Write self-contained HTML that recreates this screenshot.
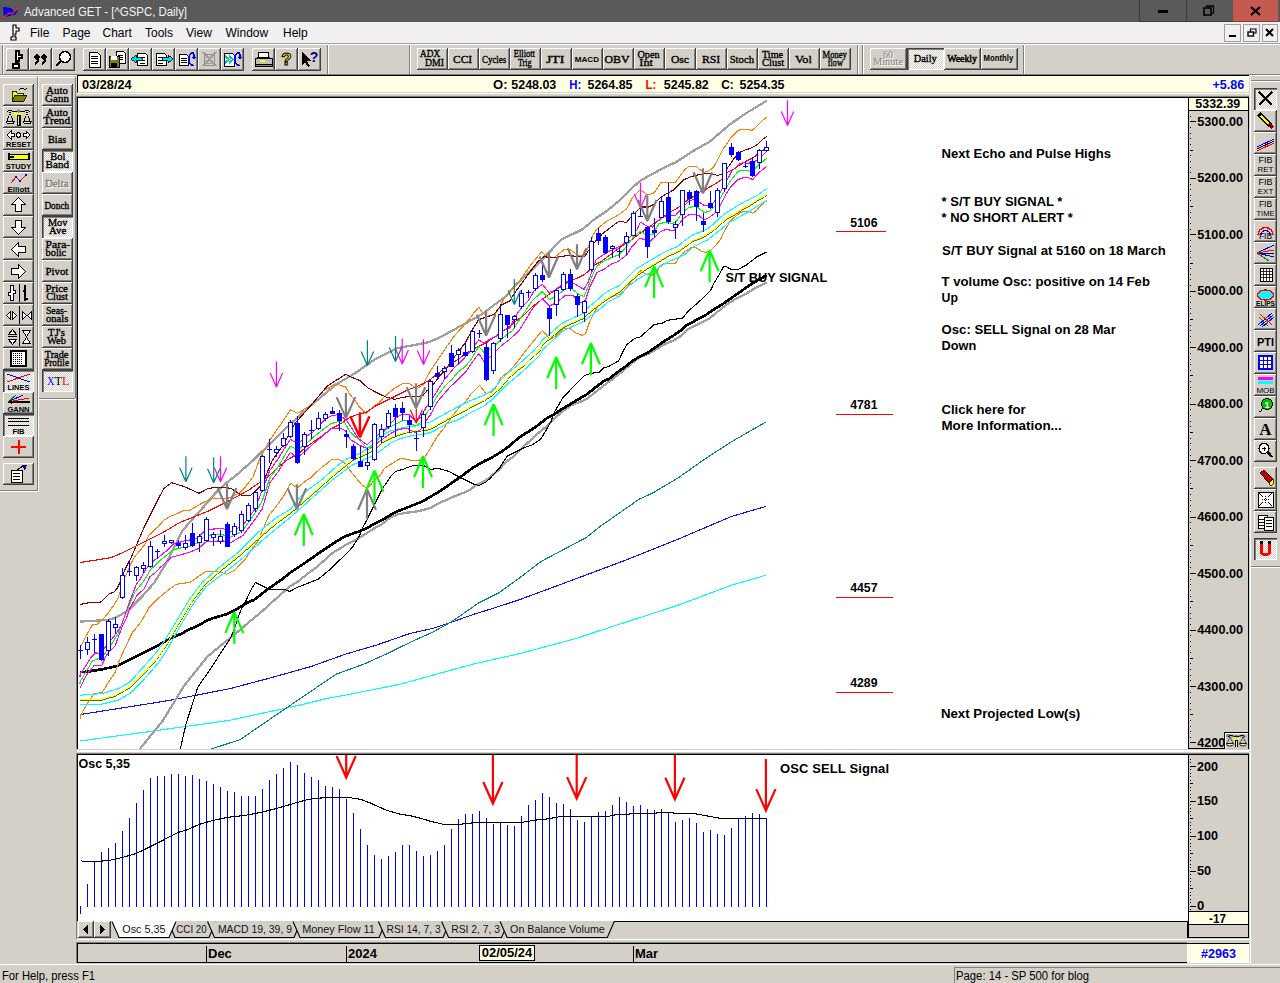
<!DOCTYPE html><html><head><meta charset="utf-8"><title>Advanced GET</title><style>
*{margin:0;padding:0;box-sizing:border-box}
html,body{width:1280px;height:983px;overflow:hidden;background:#d4d0c8;font-family:"Liberation Sans",sans-serif;position:relative}
.a{position:absolute}
.b{position:absolute;background:#d4d0c8;box-shadow:inset -1px -1px #404040,inset 1px 1px #fff,inset -2px -2px #808080}
.p{position:absolute;background-color:#fff;background-image:repeating-conic-gradient(#d4d0c8 0 25%,#fff 0 50%);background-size:2px 2px;box-shadow:inset 1px 1px #404040,inset 2px 2px #808080,inset -1px -1px #fff}
.t{font-family:"Liberation Serif",serif;font-weight:bold;color:#000;text-align:center;line-height:10px;font-size:11px;display:flex;align-items:center;justify-content:center;flex-direction:column;letter-spacing:-0.2px}
.s{font-family:"Liberation Sans",sans-serif;font-weight:bold}
.ax{font-family:"Liberation Sans",sans-serif;font-weight:bold;font-size:12.6px;color:#000;position:absolute;line-height:13px}
svg{position:absolute;overflow:hidden}
.b svg,.p svg{position:static;display:block;shape-rendering:crispEdges}
</style></head><body><div class="a" style="left:0;top:0;width:1280px;height:22px;background:#5a5a5a"></div><svg style="left:2px;top:5px" width="18" height="14" viewBox="0 0 18 14"><path d="M1 2 L9 3 L12 6 L16 5 L14 9 L8 11 L2 12 Z" fill="#0000e0"/><path d="M1 13 L7 8 L10 9 L17 2" stroke="#ff2020" stroke-width="1.3" fill="none"/></svg><div class="a" style="left:1139px;top:0;width:47px;height:22px;background:#5a5a5a;border-left:1px solid #3c3c3c;border-bottom:1px solid #3c3c3c"></div><div class="a" style="left:1158px;top:10px;width:10px;height:3px;background:#000"></div><div class="a" style="left:1186px;top:0;width:47px;height:22px;background:#5a5a5a;border-left:1px solid #3c3c3c;border-bottom:1px solid #3c3c3c"></div><svg style="left:1203px;top:5px" width="12" height="11" viewBox="0 0 12 11"><rect x="1" y="3" width="7" height="7" fill="none" stroke="#000" stroke-width="1.6"/><path d="M3.5 3 V1 H10.5 V8 H8" fill="none" stroke="#000" stroke-width="1.3"/></svg><div class="a" style="left:1233px;top:0;width:45px;height:22px;background:#c55a50;border-bottom:1px solid #8a3c36"></div><svg style="left:1250px;top:6px" width="11" height="10" viewBox="0 0 11 10"><path d="M1 1 L10 9 M10 1 L1 9" stroke="#000" stroke-width="2.2"/></svg><div class="a" style="left:0;top:22px;width:1280px;height:21px;background:#f0f0f0"></div><svg style="left:9px;top:24px" width="12" height="17" viewBox="0 0 12 17"><path d="M4 1 H7 V4 H10 V7 H7 V10 H6 V13 H7 V16 H2 V13 H4 Z" fill="#fff" stroke="#000" stroke-width="1.2"/></svg><div class="a" style="left:30.0px;top:25px;font-size:12px;color:#000;line-height:16px">File</div><div class="a" style="left:62.5px;top:25px;font-size:12px;color:#000;line-height:16px">Page</div><div class="a" style="left:102.5px;top:25px;font-size:12px;color:#000;line-height:16px">Chart</div><div class="a" style="left:145.0px;top:25px;font-size:12px;color:#000;line-height:16px">Tools</div><div class="a" style="left:186.0px;top:25px;font-size:12px;color:#000;line-height:16px">View</div><div class="a" style="left:225.5px;top:25px;font-size:12px;color:#000;line-height:16px">Window</div><div class="a" style="left:283.0px;top:25px;font-size:12px;color:#000;line-height:16px">Help</div><div class="a" style="left:1224px;top:24px;width:17px;height:18px;background:#f0f0f0;border:1px solid #a0a0a0"></div><div class="a" style="left:1243px;top:24px;width:17px;height:18px;background:#f0f0f0;border:1px solid #a0a0a0"></div><div class="a" style="left:1262px;top:24px;width:16px;height:18px;background:#f0f0f0;border:1px solid #a0a0a0"></div><div class="a" style="left:1229px;top:35px;width:7px;height:2px;background:#000"></div><svg style="left:1247px;top:28px" width="10" height="9" viewBox="0 0 10 9"><rect x="1" y="4" width="5.5" height="4" fill="none" stroke="#000" stroke-width="1.4"/><path d="M3.5 4 V1 H9 V5 H6.5" fill="none" stroke="#000" stroke-width="1.2"/></svg><svg style="left:1265px;top:28px" width="9" height="9" viewBox="0 0 9 9"><path d="M1 1 L8 8 M8 1 L1 8" stroke="#000" stroke-width="2"/></svg><div class="a" style="left:0;top:43px;width:1280px;height:1px;background:#a0a0a0"></div><div class="a" style="left:0;top:44px;width:1280px;height:1px;background:#fff"></div><div class="a" style="left:0;top:74px;width:1280px;height:1px;background:#808080"></div><div class="a" style="left:0;top:75px;width:1280px;height:1px;background:#fff"></div><div class="a" style="left:2px;top:45px;width:1px;height:29px;background:#808080"></div><div class="a" style="left:3px;top:45px;width:1px;height:29px;background:#fff"></div><div class="a" style="left:327px;top:45px;width:1px;height:29px;background:#808080"></div><div class="a" style="left:328px;top:45px;width:1px;height:29px;background:#fff"></div><div class="a" style="left:409px;top:45px;width:1px;height:29px;background:#808080"></div><div class="a" style="left:410px;top:45px;width:1px;height:29px;background:#fff"></div><div class="a" style="left:857px;top:45px;width:1px;height:29px;background:#808080"></div><div class="a" style="left:858px;top:45px;width:1px;height:29px;background:#fff"></div><div class="a" style="left:862px;top:45px;width:1px;height:29px;background:#808080"></div><div class="a" style="left:863px;top:45px;width:1px;height:29px;background:#fff"></div><div class="a" style="left:1023px;top:45px;width:1px;height:29px;background:#808080"></div><div class="a" style="left:1024px;top:45px;width:1px;height:29px;background:#fff"></div><div class="b" style="left:6px;top:48px;width:23px;height:23px;"><svg width="23" height="23" viewBox="0 0 23 23"><path d="M10 3 H13 V7 H16 V10 H13 V13 H12 V16 H13 V20 H7 V16 H10 Z" fill="#fff" stroke="#000" stroke-width="1.3"/></svg></div><div class="b" style="left:29px;top:48px;width:23px;height:23px;"><svg width="23" height="23" viewBox="0 0 23 23"><circle cx="8" cy="9" r="2.6"/><circle cx="15" cy="9" r="2.6"/><path d="M9.5 9 Q10 14 6 16 M16.5 9 Q17 14 13 16" stroke="#000" stroke-width="2" fill="none"/></svg></div><div class="b" style="left:52px;top:48px;width:23px;height:23px;"><svg width="23" height="23" viewBox="0 0 23 23"><circle cx="13" cy="9" r="5.5" fill="#fff" stroke="#000" stroke-width="1.5"/><path d="M9 13 L4 18" stroke="#000" stroke-width="2.2"/></svg></div><div class="b" style="left:83px;top:48px;width:23px;height:23px;"><svg width="23" height="23" viewBox="0 0 23 23"><path d="M6 4 H14 L17 7 V19 H6 Z" fill="#fff" stroke="#000"/><path d="M8 8 H15 M8 10.5 H15 M8 13 H15 M8 15.5 H15" stroke="#000"/></svg></div><div class="b" style="left:106px;top:48px;width:23px;height:23px;"><svg width="23" height="23" viewBox="0 0 23 23"><path d="M10 3 H17 L19 5 V15 H10 Z" fill="#fff" stroke="#000"/><path d="M12 7 H17 M12 9 H17 M12 11 H17" stroke="#000"/><rect x="3" y="8" width="10" height="11" fill="#808000" stroke="#000"/><rect x="5" y="8" width="6" height="4" fill="#fff"/><rect x="5" y="15" width="6" height="4" fill="#000"/></svg></div><div class="b" style="left:129px;top:48px;width:23px;height:23px;"><svg width="23" height="23" viewBox="0 0 23 23"><path d="M8 5 H16 L18 7 V17 H8 Z" fill="#fff" stroke="#000"/><path d="M11 9 H16 M11 12 H16 M11 15 H16" stroke="#000"/><path d="M2 11 L7 7 V9.5 H13 V12.5 H7 V15 Z" fill="#00e0e0" stroke="#000" stroke-width="0.8"/></svg></div><div class="b" style="left:152px;top:48px;width:23px;height:23px;"><svg width="23" height="23" viewBox="0 0 23 23"><path d="M4 5 H12 L14 7 V17 H4 Z" fill="#fff" stroke="#000"/><path d="M6 9 H11 M6 12 H11 M6 15 H11" stroke="#000"/><path d="M21 11 L16 7 V9.5 H10 V12.5 H16 V15 Z" fill="#00e0e0" stroke="#000" stroke-width="0.8"/></svg></div><div class="b" style="left:175px;top:48px;width:23px;height:23px;"><svg width="23" height="23" viewBox="0 0 23 23"><path d="M4.5 6.5 H11.5 L13.5 8.5 V17.5 H4.5 Z" fill="#fff" stroke="#000"/><path d="M6 10.5 H12 M6 12.5 H12 M6 14.5 H12" stroke="#000"/><path d="M18.5 4.5 Q14 4.5 14 11 Q14 17.5 18.5 17.5" stroke="#0000ff" stroke-width="1.6" fill="none"/><path d="M17 9 H21 L19 12 Z" fill="#0000ff"/><path d="M18.5 4.5 Q19 6 19 9" stroke="#0000ff" stroke-width="1.4" fill="none"/></svg></div><div class="b" style="left:198px;top:48px;width:23px;height:23px;"><svg width="23" height="23" viewBox="0 0 23 23"><path d="M5 4 L18 18 M18 4 L5 18" stroke="#a0a0a0" stroke-width="2"/><rect x="6" y="6" width="10" height="11" fill="none" stroke="#909090"/><path d="M7 9 H15 M7 12 H15 M7 15 H15" stroke="#a0a0a0"/></svg></div><div class="b" style="left:221px;top:48px;width:23px;height:23px;"><svg width="23" height="23" viewBox="0 0 23 23"><path d="M3.5 5.5 H11.5 L13.5 7.5 V18.5 H3.5 Z" fill="#fff" stroke="#000"/><path d="M4 8 L8 11.5 L4 15 M8 8 L12 11.5 L8 15" stroke="#00c0c0" stroke-width="1.8" fill="none"/><path d="M18.5 4.5 Q14 4.5 14 11 Q14 17.5 18.5 17.5" stroke="#0000ff" stroke-width="1.6" fill="none"/><path d="M17 9 H21 L19 12 Z" fill="#0000ff"/><path d="M18.5 4.5 Q19 6 19 9" stroke="#0000ff" stroke-width="1.4" fill="none"/></svg></div><div class="b" style="left:252px;top:48px;width:23px;height:23px;"><svg width="23" height="23" viewBox="0 0 23 23"><path d="M7 4 H16 L17 9 H6 Z" fill="#fff" stroke="#000"/><path d="M3 10 H20 V16 H3 Z" fill="#c0c0c0" stroke="#000"/><path d="M3 16 H20 V18 H3 Z" fill="#808080" stroke="#000"/><path d="M8 13 H13" stroke="#ffff00" stroke-width="1.5"/></svg></div><div class="b" style="left:275px;top:48px;width:23px;height:23px;"><svg width="23" height="23" viewBox="0 0 23 23"><text x="11.5" y="17" text-anchor="middle" font-family="Liberation Sans" font-weight="bold" font-size="17" fill="#ffff00" stroke="#000" stroke-width="1">?</text></svg></div><div class="b" style="left:298px;top:48px;width:23px;height:23px;"><svg width="23" height="23" viewBox="0 0 23 23"><path d="M4 4 V17 L7 14 L10 19 L12 18 L9 13 H13 Z" fill="#000"/><text x="16" y="14" text-anchor="middle" font-family="Liberation Sans" font-weight="bold" font-size="14" fill="#000080">?</text></svg></div><div class="b" style="left:417px;top:48px;width:31px;height:22px;"></div><div class="b" style="left:448px;top:48px;width:31px;height:22px;"></div><div class="b" style="left:479px;top:48px;width:31px;height:22px;"></div><div class="b" style="left:510px;top:48px;width:31px;height:22px;"></div><div class="b" style="left:541px;top:48px;width:31px;height:22px;"></div><div class="b" style="left:572px;top:48px;width:31px;height:22px;"></div><div class="b" style="left:603px;top:48px;width:31px;height:22px;"></div><div class="b" style="left:634px;top:48px;width:31px;height:22px;"></div><div class="b" style="left:665px;top:48px;width:31px;height:22px;"></div><div class="b" style="left:696px;top:48px;width:31px;height:22px;"></div><div class="b" style="left:727px;top:48px;width:31px;height:22px;"></div><div class="b" style="left:758px;top:48px;width:31px;height:22px;"></div><div class="b" style="left:789px;top:48px;width:31px;height:22px;"></div><div class="b" style="left:820px;top:48px;width:31px;height:22px;"></div><div class="b" style="left:870px;top:48px;width:37px;height:22px;"></div><div class="p" style="left:907px;top:48px;width:37px;height:22px;"></div><div class="b" style="left:944px;top:48px;width:37px;height:22px;"></div><div class="b" style="left:981px;top:48px;width:37px;height:22px;"></div><div class="a" style="left:0;top:77px;width:77px;height:1px;background:#fff"></div><div class="a" style="left:37px;top:77px;width:1px;height:414px;background:#808080"></div><div class="a" style="left:38px;top:77px;width:1px;height:415px;background:#fff"></div><div class="a" style="left:0;top:490px;width:37px;height:1px;background:#808080"></div><div class="a" style="left:0;top:491px;width:38px;height:1px;background:#fff"></div><div class="a" style="left:75px;top:77px;width:1px;height:321px;background:#808080"></div><div class="a" style="left:39px;top:398px;width:36px;height:1px;background:#808080"></div><div class="a" style="left:39px;top:399px;width:37px;height:1px;background:#fff"></div><div class="b" style="left:3px;top:84px;width:31px;height:22px;"><svg width="31" height="22" viewBox="0 0 31 22"><path d="M9 7 H13 L14 9 H20 V17 H9 Z" fill="#ffff00" stroke="#000" stroke-width="0.8"/><path d="M9 17 L12 11 H24 L21 17 Z" fill="#808000" stroke="#000" stroke-width="0.8"/><path d="M16 6 Q19 2 22 6" stroke="#000" stroke-width="1" fill="none"/><path d="M21 5 L23 7 L24 4 Z" fill="#000"/></svg></div><div class="b" style="left:3px;top:106px;width:31px;height:22px;"><svg width="31" height="22" viewBox="0 0 31 22"><path d="M4 6 Q6 3 9 5 Q12 7 15.5 5 Q19 7 22 5 Q25 3 27 6" fill="none" stroke="#000" stroke-width="1.3"/><path d="M11 6 L15.5 11 L20 6" fill="none" stroke="#ffff00" stroke-width="2"/><rect x="13.5" y="9" width="4" height="11" fill="#000"/><rect x="14.7" y="10" width="1.6" height="9" fill="#ffff00"/><circle cx="15.5" cy="5" r="1.6" fill="#808080"/><path d="M7 6 L4 15 M7 6 L10 15 M24 6 L21 15 M24 6 L27 15" stroke="#000" stroke-width="1" stroke-dasharray="1.5 0.7"/><path d="M3.5 15.5 H11 Q11 18 7.2 18 Q3.5 18 3.5 15.5 Z M20.5 15.5 H28 Q28 18 24.2 18 Q20.5 18 20.5 15.5 Z" fill="#fff" stroke="#000" stroke-width="1"/><path d="M7 16.5 H10 M24 16.5 H27" stroke="#ffff00" stroke-width="1.5"/></svg></div><div class="b" style="left:3px;top:128px;width:31px;height:22px;"><svg width="31" height="22" viewBox="0 0 31 22"><path d="M4 7 L8 3 V5.5 H11 V8.5 H8 V11 Z M27 7 L23 3 V5.5 H20 V8.5 H23 V11 Z" fill="#fff" stroke="#000"/><circle cx="15.5" cy="7" r="2.2" fill="#fff" stroke="#000"/><text x="15.5" y="19" text-anchor="middle" font-family="Liberation Sans" font-weight="bold" font-size="7.5">RESET</text></svg></div><div class="b" style="left:3px;top:150px;width:31px;height:22px;"><svg width="31" height="22" viewBox="0 0 31 22"><rect x="6" y="4" width="20" height="5" fill="#ffff00" stroke="#000"/><path d="M6 3 V10 M26 3 V10" stroke="#000" stroke-width="2"/><path d="M6 6.5 H11" stroke="#000" stroke-width="2"/><text x="15.5" y="19" text-anchor="middle" font-family="Liberation Sans" font-weight="bold" font-size="7.5">STUDY</text></svg></div><div class="b" style="left:3px;top:172px;width:31px;height:22px;"><svg width="31" height="22" viewBox="0 0 31 22"><path d="M8 11 L13 5 L17 9 L23 3" stroke="#ff0000" stroke-width="1" fill="none"/><circle cx="13" cy="5" r="1.3" fill="#0000ff"/><circle cx="17" cy="9" r="1.3" fill="#0000ff"/><circle cx="23" cy="3" r="1.3" fill="#0000ff"/><text x="15.5" y="19.5" text-anchor="middle" font-family="Liberation Sans" font-weight="bold" font-size="8">Elliott</text></svg></div><div class="b" style="left:3px;top:194px;width:31px;height:22px;"><svg width="31" height="22" viewBox="0 0 31 22"><path d="M15.5 3.5 L22.5 10.5 H18.5 V17.5 H12.5 V10.5 H8.5 Z" fill="#fff" stroke="#000" stroke-width="1"/></svg></div><div class="b" style="left:3px;top:216px;width:31px;height:22px;"><svg width="31" height="22" viewBox="0 0 31 22"><path d="M15.5 18.5 L22.5 11.5 H18.5 V4.5 H12.5 V11.5 H8.5 Z" fill="#fff" stroke="#000" stroke-width="1"/></svg></div><div class="b" style="left:3px;top:238px;width:31px;height:22px;"><svg width="31" height="22" viewBox="0 0 31 22"><path d="M8.5 11.5 L15.5 4.5 V8.5 H22.5 V14.5 H15.5 V18.5 Z" fill="#fff" stroke="#000" stroke-width="1"/></svg></div><div class="b" style="left:3px;top:260px;width:31px;height:22px;"><svg width="31" height="22" viewBox="0 0 31 22"><path d="M22.5 11.5 L15.5 4.5 V8.5 H8.5 V14.5 H15.5 V18.5 Z" fill="#fff" stroke="#000" stroke-width="1"/></svg></div><div class="b" style="left:3px;top:282px;width:31px;height:22px;"><svg width="31" height="22" viewBox="0 0 31 22"><path d="M7.5 3.5 H10.5 V8.5 H12.5 V11.5 H10.5 V18.5 H7.5 V13.5 H5.5 V10.5 H7.5 Z" fill="#fff" stroke="#000" stroke-width="1"/><path d="M16.5 2 V20" stroke="#000" stroke-width="1"/><path d="M21.5 3 V19 M21.5 8.5 H19.5 M21.5 16.5 H24.5" stroke="#000" stroke-width="2"/></svg></div><div class="b" style="left:3px;top:304px;width:31px;height:22px;"><svg width="31" height="22" viewBox="0 0 31 22"><path d="M3.5 11.5 L7.5 7.5 V15.5 Z M13.5 11.5 L9.5 7.5 V15.5 Z M23.5 11.5 L19.5 7.5 V15.5 Z M24.5 11.5 L28.5 7.5 V15.5 Z" fill="#fff" stroke="#000" stroke-width="1"/><path d="M16.5 2 V20" stroke="#000" stroke-width="1"/></svg></div><div class="b" style="left:3px;top:326px;width:31px;height:22px;"><svg width="31" height="22" viewBox="0 0 31 22"><path d="M9.5 3.5 L13.5 8.5 H5.5 Z M9.5 18.5 L13.5 13.5 H5.5 Z M23.5 10.5 L19.5 4.5 H27.5 Z M23.5 11.5 L19.5 17.5 H27.5 Z" fill="#fff" stroke="#000" stroke-width="1"/><path d="M5 10.5 H14" stroke="#000"/><path d="M16.5 2 V20" stroke="#000" stroke-width="1"/></svg></div><div class="b" style="left:3px;top:348px;width:31px;height:22px;"><svg width="31" height="22" viewBox="0 0 31 22"><rect x="8" y="3" width="15" height="15" fill="#fff" stroke="#000" stroke-width="1.5"/><path d="M10 5 h1 m1 0 h1 m1 0 h1 m1 0 h1 m1 0 h1 M10 7 h1 m1 0 h1 m1 0 h1 m1 0 h1 m1 0 h1 M10 9 h1 m1 0 h1 m1 0 h1 m1 0 h1 m1 0 h1 M10 11 h1 m1 0 h1 m1 0 h1 m1 0 h1 m1 0 h1 M10 13 h1 m1 0 h1 m1 0 h1 m1 0 h1 m1 0 h1 M10 15 h1 m1 0 h1 m1 0 h1 m1 0 h1 m1 0 h1" stroke="#000" stroke-width="1"/></svg></div><div class="p" style="left:3px;top:370px;width:31px;height:22px;"><svg width="31" height="22" viewBox="0 0 31 22"><path d="M4 4 L27 12 M4 12 L27 4" stroke="#0000ff" stroke-width="1"/><path d="M4 12 L27 4" stroke="#ff0000" stroke-width="1"/><text x="15.5" y="20" text-anchor="middle" font-family="Liberation Sans" font-weight="bold" font-size="7.5">LINES</text></svg></div><div class="b" style="left:3px;top:392px;width:31px;height:22px;"><svg width="31" height="22" viewBox="0 0 31 22"><path d="M5 10 L27 10" stroke="#000" stroke-width="1.5"/><path d="M5 10 L26 6" stroke="#ff0000"/><path d="M5 10 L20 3" stroke="#0000ff"/><path d="M5 10 L13 3" stroke="#008000"/><path d="M5 10 L9 8 V12 Z" fill="#000"/><text x="15.5" y="20" text-anchor="middle" font-family="Liberation Sans" font-weight="bold" font-size="7.5">GANN</text></svg></div><div class="p" style="left:3px;top:414px;width:31px;height:22px;"><svg width="31" height="22" viewBox="0 0 31 22"><path d="M5 4 H26 M5 7 H26 M5 11 H26" stroke="#000" stroke-width="1"/><text x="15.5" y="20" text-anchor="middle" font-family="Liberation Sans" font-weight="bold" font-size="7.5">FIB</text></svg></div><div class="b" style="left:3px;top:436px;width:31px;height:22px;"><svg width="31" height="22" viewBox="0 0 31 22"><path d="M15.5 4 V18 M8 11 H23" stroke="#ff0000" stroke-width="2"/></svg></div><div class="b" style="left:3px;top:463px;width:31px;height:22px;"><svg width="31" height="22" viewBox="0 0 31 22"><path d="M8 7 H19 V19 H8 Z" fill="#fff" stroke="#000"/><path d="M10 10 H17 M10 13 H17 M10 16 H17" stroke="#000"/><path d="M14 7 L20 3" stroke="#000"/><path d="M19 2 L24 2 L22 8 Z" fill="#000080"/></svg></div><div class="b" style="left:42px;top:84px;width:31px;height:22px;"></div><div class="b" style="left:42px;top:106px;width:31px;height:22px;"></div><div class="b" style="left:42px;top:128px;width:31px;height:22px;"></div><div class="p" style="left:42px;top:150px;width:31px;height:22px;"></div><div class="b" style="left:42px;top:172px;width:31px;height:22px;"></div><div class="b" style="left:42px;top:194px;width:31px;height:22px;"></div><div class="p" style="left:42px;top:216px;width:31px;height:22px;"></div><div class="b" style="left:42px;top:238px;width:31px;height:22px;"></div><div class="b" style="left:42px;top:260px;width:31px;height:22px;"></div><div class="b" style="left:42px;top:282px;width:31px;height:22px;"></div><div class="b" style="left:42px;top:304px;width:31px;height:22px;"></div><div class="b" style="left:42px;top:326px;width:31px;height:22px;"></div><div class="b" style="left:42px;top:348px;width:31px;height:22px;"></div><div class="p" style="left:42px;top:370px;width:31px;height:22px;"></div><div class="a" style="left:77px;top:75px;width:1172px;height:18px;background:#ffffe6;border-top:1px solid #000;border-left:1px solid #000;border-bottom:1px solid #d4d0c8"></div><div class="a" style="left:77px;top:93px;width:1173px;height:1px;background:#fff"></div><div class="a" style="left:76px;top:96px;width:1173px;height:653px;border-top:1px solid #808080;border-left:1px solid #808080"></div><div class="a" style="left:77px;top:97px;width:1112px;height:652px;background:#fff;border-top:1px solid #000;border-left:1px solid #000"></div><div class="a" style="left:1188px;top:97px;width:61px;height:652px;background:#d4d0c8;border:1px solid #000"></div><div class="a" style="left:1189px;top:98px;width:59px;height:13px;background:#ffffe6;border-bottom:1px solid #000"></div><div class="a" style="left:76px;top:753px;width:1173px;height:186px;border-top:1px solid #808080;border-left:1px solid #808080"></div><div class="a" style="left:77px;top:754px;width:1112px;height:167px;background:#fff;border-top:1px solid #000;border-left:1px solid #000"></div><div class="a" style="left:1188px;top:754px;width:61px;height:184px;background:#d4d0c8;border:1px solid #000"></div><div class="a" style="left:1189px;top:911px;width:59px;height:14px;background:#ffffe6;border-top:1px solid #000;border-bottom:1px solid #000"></div><div class="a" style="left:77px;top:750px;width:1172px;height:2px;background:#fff"></div><div class="a" style="left:1250px;top:76px;width:1px;height:888px;background:#fff"></div><div class="a" style="left:1251px;top:80px;width:29px;height:1px;background:#808080"></div><div class="a" style="left:1251px;top:81px;width:29px;height:1px;background:#fff"></div><div class="a" style="left:1251px;top:566px;width:29px;height:1px;background:#808080"></div><div class="a" style="left:1251px;top:567px;width:29px;height:1px;background:#fff"></div><div class="p" style="left:1254px;top:88px;width:23px;height:22px;"><svg width="23" height="22" viewBox="0 0 23 22"><path d="M5 4 L18 17 M18 4 L5 17" stroke="#000" stroke-width="2"/></svg></div><div class="b" style="left:1254px;top:110px;width:23px;height:22px;"><svg width="23" height="22" viewBox="0 0 23 22"><path d="M5 4 L17 16" stroke="#000" stroke-width="5"/><path d="M6 5 L16 15" stroke="#ffff00" stroke-width="2.5"/><path d="M15 14 L19 18" stroke="#800000" stroke-width="4"/><path d="M5 4 L7 6" stroke="#000" stroke-width="5"/></svg></div><div class="b" style="left:1254px;top:132px;width:23px;height:22px;"><svg width="23" height="22" viewBox="0 0 23 22"><path d="M3 15 L20 7" stroke="#0000ff"/><path d="M3 17 L20 9" stroke="#000"/><path d="M3 19 L20 11" stroke="#ff0000"/></svg></div><div class="b" style="left:1254px;top:154px;width:23px;height:22px;"><svg width="23" height="22" viewBox="0 0 23 22"><text x="11.5" y="9" text-anchor="middle" font-family="Liberation Sans" font-size="9" fill="#000">FIB</text><text x="11.5" y="18" text-anchor="middle" font-family="Liberation Sans" font-size="8" fill="#000">RET</text></svg></div><div class="b" style="left:1254px;top:176px;width:23px;height:22px;"><svg width="23" height="22" viewBox="0 0 23 22"><text x="11.5" y="9" text-anchor="middle" font-family="Liberation Sans" font-size="9" fill="#000">FIB</text><text x="11.5" y="18" text-anchor="middle" font-family="Liberation Sans" font-size="8" fill="#000">EXT</text></svg></div><div class="b" style="left:1254px;top:198px;width:23px;height:22px;"><svg width="23" height="22" viewBox="0 0 23 22"><text x="11.5" y="9" text-anchor="middle" font-family="Liberation Sans" font-size="8.5" fill="#000">FIB</text><text x="11.5" y="18" text-anchor="middle" font-family="Liberation Sans" font-size="7.5" fill="#000">TIME</text></svg></div><div class="b" style="left:1254px;top:220px;width:23px;height:22px;"><svg width="23" height="22" viewBox="0 0 23 22"><path d="M4 15 A7.5 7.5 0 0 1 19 15" fill="none" stroke="#ff0000" stroke-width="1.4"/><path d="M7 15 A4.5 4.5 0 0 1 16 15" fill="none" stroke="#0000ff" stroke-width="1.4"/><text x="11.5" y="19" text-anchor="middle" font-family="Liberation Sans" font-size="8.5" fill="#000">FIB</text></svg></div><div class="b" style="left:1254px;top:242px;width:23px;height:22px;"><svg width="23" height="22" viewBox="0 0 23 22"><path d="M3 11 L20 3" stroke="#0000ff"/><path d="M3 11 L20 8" stroke="#ff0000"/><path d="M3 11 L20 11" stroke="#000"/><path d="M3 11 L20 15" stroke="#0000ff"/><path d="M3 11 L15 19" stroke="#008000"/></svg></div><div class="b" style="left:1254px;top:264px;width:23px;height:22px;"><svg width="23" height="22" viewBox="0 0 23 22"><rect x="6" y="4" width="12" height="13" fill="#fff" stroke="#000"/><path d="M9 4 V17 M12 4 V17 M15 4 V17 M6 7 H18 M6 10 H18 M6 13 H18" stroke="#000" stroke-width="0.8"/></svg></div><div class="b" style="left:1254px;top:286px;width:23px;height:22px;"><svg width="23" height="22" viewBox="0 0 23 22"><ellipse cx="11.5" cy="9" rx="8" ry="5" fill="#00ffff" stroke="#ff0000" stroke-width="1.3"/><text x="11.5" y="20" text-anchor="middle" font-family="Liberation Sans" font-weight="bold" font-size="6.5" fill="#000">ELIPS</text></svg></div><div class="b" style="left:1254px;top:308px;width:23px;height:22px;"><svg width="23" height="22" viewBox="0 0 23 22"><path d="M4 17 L18 5 M6 18 L19 7 M8 19 L20 9" stroke="#0000ff"/><path d="M6 6 L18 17" stroke="#ff0000"/><path d="M5 9 L14 18" stroke="#008000"/></svg></div><div class="b" style="left:1254px;top:330px;width:23px;height:22px;"><svg width="23" height="22" viewBox="0 0 23 22"><text x="11.5" y="15.5" text-anchor="middle" font-family="Liberation Sans" font-weight="bold" font-size="11" fill="#000">PTI</text></svg></div><div class="b" style="left:1254px;top:352px;width:23px;height:22px;"><svg width="23" height="22" viewBox="0 0 23 22"><rect x="5" y="4" width="13" height="13" fill="#fff" stroke="#0000ff" stroke-width="1.3"/><path d="M9.3 4 V17 M13.6 4 V17 M5 8.3 H18 M5 12.6 H18" stroke="#0000ff" stroke-width="1.3"/></svg></div><div class="b" style="left:1254px;top:374px;width:23px;height:22px;"><svg width="23" height="22" viewBox="0 0 23 22"><rect x="4" y="3" width="15" height="3" fill="#ff00ff"/><rect x="4" y="7" width="15" height="3" fill="#00ffff"/><text x="11.5" y="19" text-anchor="middle" font-family="Liberation Sans" font-size="8" fill="#000">MOB</text></svg></div><div class="b" style="left:1254px;top:396px;width:23px;height:22px;"><svg width="23" height="22" viewBox="0 0 23 22"><circle cx="13" cy="8" r="5.5" fill="#00c000" stroke="#000"/><text x="13" y="11.5" text-anchor="middle" font-family="Liberation Sans" font-weight="bold" font-size="9" fill="#fff">1</text><path d="M9 12 L4 18" stroke="#000" stroke-dasharray="1 1"/></svg></div><div class="b" style="left:1254px;top:418px;width:23px;height:22px;"><svg width="23" height="22" viewBox="0 0 23 22"><text x="11.5" y="17" text-anchor="middle" font-family="Liberation Serif" font-weight="bold" font-size="17" fill="#000">A</text></svg></div><div class="b" style="left:1254px;top:440px;width:23px;height:22px;"><svg width="23" height="22" viewBox="0 0 23 22"><circle cx="10" cy="8.5" r="5" fill="#fff" stroke="#000" stroke-width="1.3"/><path d="M8 8.5 H12 M10 6.5 V10.5" stroke="#000"/><path d="M13.5 12 L18 17" stroke="#000" stroke-width="2.5"/></svg></div><div class="b" style="left:1254px;top:467px;width:23px;height:22px;"><svg width="23" height="22" viewBox="0 0 23 22"><path d="M6 6 L10 3 L19 12 L15 16 Z" fill="#c00000" stroke="#000" stroke-width="0.8"/><path d="M15 16 L19 12 L20 16 L17 19 Z" fill="#ffff00" stroke="#000" stroke-width="0.8"/></svg></div><div class="b" style="left:1254px;top:489px;width:23px;height:22px;"><svg width="23" height="22" viewBox="0 0 23 22"><rect x="4" y="3" width="15" height="15" fill="#fff" stroke="#000"/><path d="M5 4 L9 8 M18 4 L14 8 M5 17 L9 13 M18 17 L14 13" stroke="#000" stroke-width="1.3"/><path d="M11.5 7 V14 M8 10.5 H15" stroke="#000" stroke-dasharray="1 1"/></svg></div><div class="b" style="left:1254px;top:511px;width:23px;height:22px;"><svg width="23" height="22" viewBox="0 0 23 22"><path d="M4 4 H13 V17 H4 Z" fill="#fff" stroke="#000"/><path d="M10 6 H19 V19 H10 Z" fill="#fff" stroke="#000"/><path d="M5 8 H11 M5 11 H11 M5 14 H11 M12 9 H18 M12 12 H18 M12 15 H18" stroke="#000"/></svg></div><div class="p" style="left:1254px;top:538px;width:23px;height:22px;"><svg width="23" height="22" viewBox="0 0 23 22"><path d="M6 4 V14 Q6 18 11.5 18 Q17 18 17 14 V4 H14 V14 Q14 15 11.5 15 Q9 15 9 14 V4 Z" fill="#ff0000"/><rect x="6" y="3" width="3" height="3" fill="#000"/><rect x="14" y="3" width="3" height="3" fill="#000"/></svg></div><div class="b" style="left:78px;top:921px;width:16px;height:17px;"><svg width="16" height="17" viewBox="0 0 16 17"><path d="M5 8.5 L10 4 V13 Z" fill="#000"/></svg></div><div class="b" style="left:94px;top:921px;width:17px;height:17px;"><svg width="17" height="17" viewBox="0 0 17 17"><path d="M11 8.5 L6 4 V13 Z" fill="#000"/></svg></div><svg style="left:77px;top:916px" width="560" height="24" viewBox="77 916 560 24"><path d="M168.0 921.5 L175.0 937.5 L209.0 937.5 L216.0 921.5" fill="#d4d0c8" stroke="#000" stroke-width="1.1"/><path d="M207.5 921.5 L214.5 937.5 L294.0 937.5 L301.0 921.5" fill="#d4d0c8" stroke="#000" stroke-width="1.1"/><path d="M293.0 921.5 L300.0 937.5 L379.0 937.5 L386.0 921.5" fill="#d4d0c8" stroke="#000" stroke-width="1.1"/><path d="M378.4 921.5 L385.4 937.5 L443.0 937.5 L450.0 921.5" fill="#d4d0c8" stroke="#000" stroke-width="1.1"/><path d="M441.6 921.5 L448.6 937.5 L501.5 937.5 L508.5 921.5" fill="#d4d0c8" stroke="#000" stroke-width="1.1"/><path d="M500.1 921.5 L507.1 937.5 L607.3 937.5 L614.3 921.5" fill="#d4d0c8" stroke="#000" stroke-width="1.1"/><path d="M112.0 921.5 L119.0 937.5 L169.0 937.5 L176.0 921.5" fill="#fff" stroke="#000" stroke-width="1.1"/><rect x="112.6" y="916" width="62.8" height="5.6" fill="#fff"/></svg><div class="a" style="left:77px;top:939px;width:1173px;height:1px;background:#fff"></div><div class="a" style="left:614px;top:921px;width:574px;height:1px;background:#000"></div><div class="a" style="left:1187px;top:921px;width:1px;height:17px;background:#000"></div><div class="a" style="left:76px;top:942px;width:1111px;height:21px;border-top:1px solid #808080;border-left:1px solid #808080"></div><div class="a" style="left:77px;top:943px;width:1110px;height:20px;background:#d4d0c8;border-top:1px solid #000;border-left:1px solid #000;border-bottom:1px solid #000"></div><div class="a" style="left:1187px;top:943px;width:62px;height:20px;background:#ffffe6;border-top:1px solid #000;border-bottom:1px solid #fff"></div><div class="a" style="left:206px;top:946px;width:1px;height:16px;background:#000"></div><div class="a s" style="left:208px;top:946px;font-size:13px;line-height:15px">Dec</div><div class="a" style="left:346px;top:946px;width:1px;height:16px;background:#000"></div><div class="a s" style="left:348px;top:946px;font-size:13px;line-height:15px">2024</div><div class="a" style="left:633px;top:946px;width:1px;height:16px;background:#000"></div><div class="a s" style="left:635px;top:946px;font-size:13px;line-height:15px">Mar</div><div class="a s" style="left:479px;top:945px;width:56px;height:16px;background:#ffffe6;border:1px solid #000;font-size:13px;line-height:14px;text-align:center">02/05/24</div><div class="a" style="left:0;top:964px;width:1280px;height:1px;background:#fff"></div><div class="a" style="left:954px;top:967px;width:326px;height:16px;border-top:1px solid #808080;border-left:1px solid #808080"></div><svg style="left:78px;top:98px" width="1110" height="651" viewBox="78 98 1110 651"><g fill="none" stroke-linejoin="round" shape-rendering="crispEdges"><polyline points="80.0,741.0 130.0,734.2 154.4,730.9 187.0,726.3 230.0,720.2 270.0,711.6 300.0,705.1 324.4,699.0 348.8,694.5 373.2,689.6 400.0,684.3 422.6,678.0 473.5,664.0 520.0,653.5 572.9,639.4 625.8,622.2 678.7,605.0 731.6,585.2 766.0,575.2" stroke="#00ffff" stroke-width="1.1"/><polyline points="80.0,714.6 153.3,703.0 176.0,699.2 195.8,695.3 230.6,688.5 270.0,678.0 310.7,666.6 346.3,653.9 376.8,645.0 409.9,633.5 432.8,628.4 453.1,621.6 473.5,614.4 493.8,608.1 520.0,599.5 572.9,579.9 625.8,560.1 678.7,538.9 731.6,516.4 766.0,506.4" stroke="#1010f0" stroke-width="1.1"/><polyline points="211.0,749.0 240.0,739.7 270.0,719.2 300.5,698.4 336.1,674.2 364.1,664.0 389.5,652.6 412.4,641.2 432.8,632.2 453.1,620.8 478.5,603.0 498.9,592.8 520.0,577.5 541.2,561.4 586.1,537.6 599.3,527.0 639.0,499.3 652.2,493.3 678.7,477.5 705.1,458.9 731.6,441.7 766.0,421.9" stroke="#008080" stroke-width="1.1"/><polyline points="139.8,749.0 163.0,720.4 184.2,685.6 207.4,656.6 230.6,637.5 240.8,629.3 250.5,620.8 258.7,614.3 266.8,607.0 275.0,599.6 283.1,592.3 289.6,586.6 298.0,581.5 308.2,573.2 316.3,567.5 324.5,560.2 332.6,552.9 340.8,548.0 348.9,543.1 357.0,539.1 365.2,534.2 374.0,528.5 382.1,524.0 390.3,517.5 398.4,514.3 406.5,512.7 414.7,511.8 422.8,510.2 431.0,507.8 435.0,505.3 443.2,501.3 446.1,500.3 452.2,497.2 458.3,494.8 464.4,492.4 470.5,489.3 476.6,485.0 482.7,482.0 488.8,478.3 494.9,472.8 500.0,469.2 504.9,462.7 513.0,457.0 521.2,448.8 531.6,439.3 538.1,433.2 546.3,426.7 554.4,418.6 562.5,411.3 570.7,405.6 578.8,402.3 585.3,399.9 595.1,392.5 603.2,386.0 611.3,380.0 620.2,373.2 632.4,362.7 640.5,357.0 648.7,353.7 656.8,348.8 665.0,343.9 673.1,340.7 681.2,335.8 687.8,329.3 699.7,323.3 708.9,318.8 718.0,311.4 727.2,304.1 736.4,298.6 745.5,294.0 754.7,288.5 766.6,282.6" stroke="#a0a0a0" stroke-width="2.3"/><polyline points="80.0,621.6 108.6,619.9 115.1,617.8 118.3,616.2 128.1,610.5 141.1,597.5 154.2,582.8 167.2,561.6 181.8,531.6 190.0,521.8 198.1,512.9 206.3,503.9 214.4,494.2 220.9,487.7 230.7,479.5 238.8,473.0 247.0,465.7 253.5,460.0 260.0,453.4 270.3,443.9 290.7,423.6 311.0,405.3 335.5,384.9 355.8,372.7 376.1,358.5 396.5,348.3 412.8,345.3 429.0,342.2 440.7,337.0 461.0,325.8 481.4,314.6 493.6,305.5 505.8,296.3 515.3,285.2 529.5,272.0 547.8,253.7 562.1,239.0 574.3,233.4 582.4,229.3 594.6,219.1 606.8,211.0 619.0,200.8 631.3,188.6 640.5,180.5 663.4,168.0 675.9,162.2 692.6,151.3 709.3,141.9 730.2,124.2 746.8,112.7 766.7,100.8" stroke="#a0a0a0" stroke-width="2.3"/><polyline points="180.3,749.0 186.0,724.0 197.7,687.5 211.0,668.0 230.6,638.0 234.3,629.3 238.3,616.7 241.6,608.6 245.7,601.3 250.5,590.7 255.4,582.5 266.8,588.2 268.4,589.5 285.5,589.9 289.6,591.5 298.0,587.0 303.1,585.2 318.0,579.3 328.5,570.8 336.7,562.7 343.2,557.0 348.1,552.1 353.0,546.4 359.5,535.8 363.5,526.0 367.6,518.7 374.0,505.3 382.1,489.1 390.3,476.9 395.2,471.6 402.5,469.5 410.6,466.3 417.1,465.1 423.6,465.5 431.0,469.5 437.5,468.3 442.4,469.5 449.2,471.6 460.1,477.4 467.5,481.1 474.8,484.7 479.1,485.3 485.8,482.3 490.7,477.7 496.2,471.6 500.0,467.3 507.3,456.1 517.1,451.3 525.2,447.2 532.0,445.2 540.6,439.3 546.3,430.0 551.2,421.0 554.4,412.1 559.3,403.9 562.5,398.2 573.1,386.9 584.5,375.5 591.0,373.4 599.2,372.2 603.2,368.1 608.0,366.7 618.6,361.0 622.6,352.1 626.7,344.8 634.9,338.2 639.7,337.4 647.1,330.9 654.4,324.4 661.7,323.6 667.4,320.3 678.8,318.7 682.9,317.9 688.0,311.4 695.2,305.0 702.5,298.6 710.7,290.4 713.5,284.0 719.0,274.8 723.5,266.6 725.4,266.1 730.9,269.3 738.2,269.3 745.5,265.6 757.4,256.5 766.6,251.9" stroke="#000" stroke-width="1.1"/><polyline points="80.0,672.0 87.2,671.8 93.3,670.7 101.2,669.4 108.5,667.9 115.9,666.4 120.7,664.3 126.8,660.9 133.0,657.9 138.0,655.4 144.4,652.2 150.5,649.2 156.6,646.1 161.0,643.7 165.9,641.0 173.3,637.0 182.4,633.3 188.5,629.7 194.6,627.2 200.7,624.2 206.8,620.5 213.0,618.1 218.0,616.7 226.1,614.3 234.3,610.6 242.4,605.7 246.5,602.9 253.8,600.0 258.7,596.4 266.8,589.9 275.0,584.2 283.1,578.5 291.2,572.0 298.0,567.5 304.1,563.5 312.3,557.8 320.4,552.1 328.5,546.8 336.7,541.1 344.8,536.6 353.0,533.4 359.5,531.3 367.6,527.7 374.0,524.0 382.1,520.0 390.3,515.1 398.4,511.0 406.5,507.8 414.7,504.5 422.8,501.3 431.0,496.4 440.0,491.1 446.1,486.9 452.2,482.6 460.1,477.4 467.5,471.6 473.6,467.3 479.7,463.7 484.5,461.0 492.7,457.0 500.8,452.1 509.0,446.4 517.1,439.1 525.2,433.4 530.0,430.8 538.1,425.1 546.3,418.6 554.4,414.1 562.5,408.8 570.7,403.9 578.8,399.1 587.0,394.2 595.1,387.7 603.2,381.6 609.6,378.5 616.1,373.2 624.3,367.5 632.4,361.0 640.5,356.1 648.7,352.1 656.8,346.4 665.0,340.7 673.1,335.8 681.2,330.1 686.0,325.6 695.2,320.6 704.3,316.0 713.5,309.6 722.6,304.1 731.8,297.7 741.0,291.3 750.1,284.9 759.3,279.4 766.6,275.3" stroke="#000" stroke-width="2.7"/><polyline points="80.0,719.0 80.9,714.7 87.4,703.3 93.9,693.6 102.1,692.7 108.6,682.1 115.1,672.4 119.2,661.0 124.9,648.0 133.0,631.7 141.1,621.9 149.3,607.2 157.4,599.1 167.2,590.9 176.0,584.4 189.9,582.4 206.2,571.2 218.4,571.2 226.6,574.3 234.7,570.2 245.2,559.3 252.5,548.3 257.4,541.8 263.1,528.8 268.8,515.8 277.0,505.2 283.5,496.3 289.2,485.7 290.8,483.3 297.3,488.1 300.0,485.6 304.9,481.5 310.6,477.8 316.3,472.5 322.0,466.9 326.9,463.6 331.7,459.5 339.1,459.5 345.6,463.6 350.4,470.9 357.0,479.1 361.8,484.8 367.5,488.8 373.2,481.5 380.0,475.8 384.3,468.4 400.6,458.2 410.7,460.2 423.1,460.0 428.8,450.8 437.0,437.0 445.1,426.4 453.2,415.0 460.0,406.5 465.7,401.6 471.4,393.5 479.5,385.3 486.0,393.5 492.5,391.8 496.6,386.1 500.7,378.0 508.8,371.5 517.0,362.5 521.0,356.9 529.2,346.3 540.0,333.3 542.4,330.4 546.5,335.3 550.6,339.4 556.3,335.3 563.6,328.0 570.1,328.8 575.8,332.9 582.3,335.3 585.6,333.7 588.8,323.9 592.9,315.0 598.6,305.2 605.1,299.5 613.2,296.3 620.0,294.0 624.1,290.8 630.6,282.7 636.3,275.3 641.2,270.4 646.0,274.5 651.7,275.3 655.8,273.7 659.1,267.2 663.1,263.9 667.2,263.5 675.3,263.5 678.6,258.2 681.8,254.2 685.1,251.7 690.0,248.1 695.7,247.3 700.0,250.5 705.0,252.5 710.0,251.0 715.0,246.0 720.7,239.4 723.5,232.7 728.5,224.1 730.6,220.6 735.6,216.3 739.9,212.7 745.6,211.3 749.9,212.0 752.7,213.4 757.0,209.9 762.7,203.5 766.5,201.0" stroke="#ff8000" stroke-width="1.1"/><polyline points="80.0,704.1 102.1,704.1 118.3,700.1 129.7,693.6 144.4,678.9 157.4,664.2 167.2,649.6 181.8,623.1 194.0,602.8 206.2,586.5 222.5,574.3 242.8,558.0 263.2,539.7 276.0,529.0 290.7,517.2 311.0,498.9 331.4,480.6 351.7,465.3 372.1,456.1 382.5,449.3 390.7,443.2 398.8,439.2 407.0,436.7 415.1,435.1 423.2,434.3 430.0,432.7 450.0,422.6 460.0,419.1 468.0,414.0 476.3,410.0 484.4,405.7 492.5,399.2 500.7,391.0 508.8,382.9 517.0,376.4 525.1,369.1 533.2,361.7 540.0,355.2 542.4,350.2 562.8,330.9 583.1,321.7 599.5,309.4 608.5,301.7 616.6,297.6 620.0,295.7 628.1,286.7 636.3,280.2 644.4,275.3 652.5,272.1 660.7,266.4 668.8,261.5 677.0,258.2 685.1,254.2 693.2,246.9 700.0,243.6 708.5,239.4 714.2,234.8 721.4,229.1 728.5,222.7 735.6,219.1 742.7,214.9 749.9,211.3 757.0,206.3 767.0,200.3" stroke="#00ffff" stroke-width="1.1"/><polyline points="80.0,695.2 102.1,693.6 118.3,688.7 129.7,682.1 144.4,665.9 157.4,651.2 167.2,636.5 177.7,619.0 189.9,598.7 202.1,582.4 218.4,568.2 238.8,551.9 259.1,531.6 276.0,518.0 290.7,509.0 300.0,497.0 308.1,489.6 316.3,483.9 324.4,477.4 332.5,470.1 339.1,464.4 345.6,459.5 352.9,456.3 361.0,453.0 366.3,449.3 374.4,443.2 382.5,435.1 390.7,431.0 398.8,428.6 407.0,427.0 415.1,426.1 423.2,423.7 430.0,422.1 450.0,411.0 460.0,405.7 468.1,401.6 476.3,398.3 484.4,395.1 492.5,390.2 500.7,380.4 508.8,372.3 517.0,365.8 525.1,358.5 533.2,351.2 540.0,343.8 542.4,340.0 562.8,322.7 583.1,313.6 587.3,308.2 596.3,300.8 604.4,293.5 612.6,288.6 618.3,286.2 620.0,285.1 628.1,277.0 636.3,268.8 644.4,263.9 652.5,259.1 660.7,254.2 668.8,250.1 677.0,246.9 685.1,240.3 693.2,234.6 700.0,232.2 707.1,229.1 714.2,223.4 721.4,216.3 728.5,211.3 735.6,207.0 742.7,202.8 749.9,199.2 757.0,195.6 767.0,188.2" stroke="#00ffff" stroke-width="1.1"/><polyline points="80.0,699.2 102.1,699.2 115.1,695.2 129.7,687.0 144.4,672.4 157.4,657.7 167.2,643.1 179.8,621.1 192.0,600.7 204.2,584.5 220.5,570.2 240.8,553.9 261.1,535.6 276.0,523.0 290.7,512.1 311.0,494.8 331.4,476.5 351.7,460.2 374.4,449.3 382.5,441.6 390.7,437.5 398.8,434.3 407.0,431.8 415.1,430.6 423.2,429.8 430.0,428.6 450.0,417.5 464.9,410.0 472.2,405.7 484.4,400.0 492.5,394.3 500.7,387.0 508.8,377.2 517.0,369.9 525.1,364.2 533.2,356.0 540.0,349.5 542.4,344.1 562.8,326.8 583.1,317.7 592.2,309.4 600.4,303.3 608.5,297.6 616.6,292.7 620.0,290.8 628.1,282.7 636.3,275.3 644.4,269.6 652.5,264.8 660.7,259.9 668.8,255.0 677.0,251.7 685.1,246.0 693.2,240.3 700.0,237.9 707.1,234.1 714.2,229.1 721.4,222.7 728.5,217.0 735.6,213.4 742.7,208.5 749.9,204.9 757.0,199.9 767.0,194.6" stroke="#408000" stroke-width="1" transform="translate(0,1)"/><polyline points="80.0,699.2 102.1,699.2 115.1,695.2 129.7,687.0 144.4,672.4 157.4,657.7 167.2,643.1 179.8,621.1 192.0,600.7 204.2,584.5 220.5,570.2 240.8,553.9 261.1,535.6 276.0,523.0 290.7,512.1 311.0,494.8 331.4,476.5 351.7,460.2 374.4,449.3 382.5,441.6 390.7,437.5 398.8,434.3 407.0,431.8 415.1,430.6 423.2,429.8 430.0,428.6 450.0,417.5 464.9,410.0 472.2,405.7 484.4,400.0 492.5,394.3 500.7,387.0 508.8,377.2 517.0,369.9 525.1,364.2 533.2,356.0 540.0,349.5 542.4,344.1 562.8,326.8 583.1,317.7 592.2,309.4 600.4,303.3 608.5,297.6 616.6,292.7 620.0,290.8 628.1,282.7 636.3,275.3 644.4,269.6 652.5,264.8 660.7,259.9 668.8,255.0 677.0,251.7 685.1,246.0 693.2,240.3 700.0,237.9 707.1,234.1 714.2,229.1 721.4,222.7 728.5,217.0 735.6,213.4 742.7,208.5 749.9,204.9 757.0,199.9 767.0,194.6" stroke="#ffff00" stroke-width="1.1"/><polyline points="80.0,650.0 80.9,646.3 85.8,636.5 92.3,625.1 97.2,624.3 102.9,619.4 107.8,613.7 113.5,605.6 117.5,599.1 120.0,592.6 123.2,579.5 125.5,576.5 129.5,566.7 134.4,557.0 140.9,549.6 145.0,543.9 147.4,538.2 149.1,535.0 153.9,530.9 158.8,526.0 163.7,520.3 170.2,516.3 175.1,514.6 183.2,510.6 190.0,510.2 202.1,503.1 214.4,498.0 226.6,499.0 239.4,492.9 245.1,487.2 253.2,476.6 260.0,458.0 270.0,440.1 276.5,430.3 282.2,422.2 287.1,414.9 290.3,410.0 294.4,411.6 297.7,413.3 300.9,411.6 304.0,409.0 311.0,405.3 323.2,391.0 335.5,383.9 345.6,387.0 350.0,394.4 354.1,399.3 359.8,407.4 366.3,413.5 369.5,410.7 374.4,405.8 378.5,403.4 384.2,396.9 390.7,391.2 396.4,387.1 402.9,383.4 409.4,383.4 414.3,387.1 417.5,388.3 423.2,384.6 427.3,376.5 430.0,371.6 438.1,359.4 446.3,347.2 454.4,335.8 462.5,326.9 469.1,319.5 473.1,313.8 478.8,307.3 482.9,313.0 487.0,316.3 495.1,314.6 499.2,308.1 503.2,300.0 509.2,293.4 521.4,278.1 531.6,263.9 541.7,251.7 545.8,255.7 553.9,257.8 564.1,249.6 570.2,249.6 578.4,255.7 580.3,255.5 584.1,255.5 588.0,247.6 592.9,235.0 596.7,229.3 606.8,221.1 615.0,217.1 620.0,213.9 626.5,209.1 633.0,196.9 640.3,189.5 647.7,195.2 654.2,192.8 660.7,183.0 668.0,182.2 675.7,182.1 679.2,177.1 684.3,170.0 689.1,166.3 696.4,166.3 699.6,169.4 703.7,172.4 709.4,170.6 713.5,167.3 718.1,159.1 722.9,149.3 727.2,143.2 730.3,138.3 738.2,130.4 742.5,129.2 748.6,129.5 752.2,130.4 757.7,125.5 763.2,120.0 766.7,117.0" stroke="#ff8000" stroke-width="1.1"/><polyline points="80.0,604.5 89.0,602.7 101.2,602.0 105.3,597.5 108.6,594.2 114.3,591.8 117.5,587.7 120.8,581.2 124.9,569.8 130.9,558.0 143.1,529.5 155.3,505.1 163.5,488.8 171.6,482.7 183.8,486.4 199.1,493.3 208.2,488.4 218.4,487.2 230.6,488.2 240.8,494.9 250.0,496.0 262.2,484.6 272.4,460.2 282.6,446.0 294.8,423.6 311.0,405.3 327.3,386.0 345.6,374.4 350.0,376.5 359.8,380.6 367.9,387.9 376.9,392.8 385.8,396.9 394.8,399.3 402.9,397.3 411.0,396.4 419.2,396.4 423.2,395.2 427.3,390.3 430.0,388.7 437.3,379.3 446.3,368.3 454.4,357.0 460.1,349.6 465.0,343.1 469.1,335.8 473.1,328.5 478.8,319.5 482.9,318.3 488.6,316.3 494.3,314.2 497.5,309.8 501.6,304.9 510.0,300.8 513.2,295.0 525.5,278.1 537.7,261.8 543.8,256.7 553.9,257.8 566.1,255.7 579.2,256.3 584.7,256.3 590.1,248.1 595.6,241.0 602.8,233.4 619.0,221.1 626.5,222.5 632.2,215.6 641.2,207.0 648.5,207.0 654.2,204.2 660.0,197.8 667.1,193.5 674.2,189.6 679.2,184.3 683.5,180.0 689.9,177.1 695.2,175.5 701.3,174.2 707.4,173.4 713.5,174.2 717.4,175.6 721.6,174.2 724.2,173.7 727.2,168.2 730.9,163.3 734.5,157.9 739.4,152.4 745.5,149.9 750.4,148.4 754.7,146.3 759.0,143.2 762.6,139.5 766.9,136.2" stroke="#800000" stroke-width="1.1"/><polyline points="80.0,562.5 96.3,560.0 110.0,557.8 114.9,556.1 122.2,552.9 130.3,548.8 138.5,544.8 146.6,540.7 154.8,536.6 162.9,532.5 171.0,527.7 179.2,522.8 190.0,518.3 208.2,511.2 228.6,501.0 248.9,490.0 270.0,475.1 278.1,467.0 286.3,460.4 294.4,456.0 300.1,452.3 306.6,446.6 314.8,440.9 322.9,435.2 331.0,428.7 339.2,424.6 350.0,417.2 358.1,414.3 366.3,412.3 374.4,406.6 382.5,402.5 390.7,398.5 398.8,394.4 407.0,390.3 415.1,387.1 423.2,383.8 430.0,379.8 438.1,373.2 446.3,367.5 454.4,361.8 462.5,356.1 470.7,350.4 478.8,346.4 487.0,342.3 495.1,336.6 503.2,330.9 510.0,326.0 516.0,321.0 524.0,315.0 532.0,307.0 540.7,300.4 548.0,295.0 557.0,289.1 567.5,282.5 580.0,276.8 584.7,274.4 590.1,269.4 595.6,264.5 600.0,262.3 610.0,255.0 620.0,247.3 632.2,239.2 644.4,230.2 652.5,224.5 660.3,219.4 664.3,216.3 671.4,211.3 677.1,208.5 681.4,204.9 687.8,199.9 692.8,196.7 699.9,192.1 704.9,190.3 709.9,186.8 717.0,182.8 722.7,178.6 727.2,172.5 733.3,169.5 739.4,165.2 743.7,162.7 747.4,160.6 751.6,158.5 754.7,156.6 757.7,154.2 761.4,151.1 766.0,148.5" stroke="#ff0000" stroke-width="1.1"/><polyline points="80.0,688.0 84.1,679.5 87.8,673.1 94.2,665.5 101.8,665.5 104.3,659.7 106.7,654.8 111.0,649.9 115.2,645.6 118.3,637.1 122.0,627.3 125.6,620.0 130.4,607.5 137.0,595.3 144.3,588.8 150.0,576.6 155.7,572.5 160.0,567.7 165.3,562.7 171.8,557.0 179.2,555.3 190.0,552.1 198.1,548.8 206.2,541.7 222.5,540.7 230.6,542.7 242.8,535.6 255.0,519.3 262.2,509.0 270.0,482.4 278.1,471.8 284.6,461.3 290.3,452.3 294.4,455.6 300.1,455.6 306.6,449.9 314.8,442.5 322.9,436.0 331.0,428.7 339.2,427.9 344.9,430.3 350.0,439.2 358.1,444.5 368.7,449.3 382.5,439.2 390.7,433.5 398.8,429.4 407.0,428.2 415.1,432.7 420.8,429.4 427.3,418.8 430.0,415.6 437.2,402.0 450.0,387.0 458.5,379.3 466.6,370.8 474.8,358.6 478.8,353.7 483.7,361.0 490.2,357.0 496.7,350.4 501.6,345.6 510.0,339.1 519.5,330.0 532.5,308.6 542.3,298.8 549.6,306.1 557.0,302.1 565.1,295.6 573.2,295.6 580.0,302.5 584.9,301.7 589.8,287.0 597.1,272.3 604.4,269.1 610.9,264.2 617.5,261.8 624.0,256.9 627.2,254.4 632.1,246.3 640.0,238.1 650.1,241.6 660.0,232.0 665.7,229.5 674.2,230.6 678.5,224.9 683.5,218.4 689.9,214.2 695.6,214.2 699.9,216.3 704.2,219.9 709.9,217.0 715.6,212.7 720.5,204.9 725.5,194.9 730.0,187.8 738.2,179.5 744.3,177.4 749.2,178.0 752.9,179.5 757.7,173.7 762.6,169.5 766.9,166.4" stroke="#ff00ff" stroke-width="1.1"/><polyline points="80.0,684.0 80.1,681.3 85.8,672.4 92.3,661.0 97.2,659.3 102.9,656.1 110.2,646.3 118.3,633.3 124.9,615.4 134.6,592.6 145.0,579.3 150.7,569.2 155.6,565.1 161.3,559.4 169.4,552.9 174.3,549.6 180.8,548.0 186.5,546.8 190.0,546.4 198.1,542.7 206.2,535.2 222.5,534.6 230.6,537.3 242.8,530.5 255.0,513.2 262.2,500.9 270.0,477.5 278.1,467.0 284.6,455.6 290.3,446.2 294.4,448.2 300.1,448.2 306.6,443.4 314.8,436.0 322.9,429.5 331.0,423.8 339.2,421.4 344.9,423.0 350.0,431.8 358.1,439.2 366.3,447.5 370.3,448.1 378.5,437.5 386.6,428.6 394.8,424.5 402.1,420.9 407.0,420.9 415.1,426.1 421.6,422.1 428.1,410.7 430.0,409.1 437.2,396.1 446.0,385.0 452.0,379.3 458.5,371.6 464.2,367.5 470.7,360.2 478.8,346.4 483.7,352.1 489.4,349.6 495.1,345.6 500.8,339.9 507.3,334.2 510.0,332.5 513.0,330.0 518.0,322.0 524.4,312.7 532.5,300.4 542.3,291.5 549.6,299.6 557.0,295.6 565.1,289.1 570.8,288.2 580.0,295.1 584.1,296.4 588.1,287.0 593.0,274.0 597.1,265.8 604.4,260.9 612.6,256.9 618.3,255.2 624.0,249.5 628.9,243.0 633.7,236.5 640.0,231.6 646.9,234.3 652.5,234.3 659.0,223.7 665.7,222.4 672.8,223.4 677.1,220.6 681.4,213.5 688.5,207.8 695.6,206.0 699.9,209.2 704.2,212.4 709.9,211.3 715.6,205.6 720.5,197.8 725.5,189.2 730.3,181.0 738.2,171.3 742.5,170.4 747.4,170.4 751.6,171.9 754.7,168.8 757.7,165.8 762.0,162.1 766.9,158.2" stroke="#00ff00" stroke-width="1.1"/><polyline points="80.0,677.0 80.1,674.0 85.8,665.9 90.7,657.7 95.5,652.8 100.4,653.6 108.6,643.1 115.1,634.9 121.6,625.1 128.1,605.6 136.3,584.4 140.1,579.3 145.8,569.2 152.3,561.8 158.8,557.0 167.0,550.4 173.5,543.9 179.2,542.3 184.9,540.7 190.0,539.9 198.1,537.7 206.2,529.5 222.5,528.5 230.6,531.6 242.8,525.5 255.0,509.2 262.2,490.0 270.0,470.2 278.1,458.8 284.6,448.2 290.3,439.3 294.4,441.7 300.1,441.7 305.0,436.9 312.3,432.8 318.8,426.3 325.3,419.0 331.8,415.7 336.7,414.9 341.6,416.5 347.3,421.4 350.0,425.3 358.1,438.3 367.1,444.9 374.4,437.5 382.5,431.8 389.1,425.3 395.6,418.0 402.1,414.3 408.6,414.3 415.1,420.4 420.8,417.2 426.5,406.6 430.0,402.5 437.2,391.0 444.6,379.3 454.4,367.5 462.5,360.2 470.7,350.4 478.8,339.9 483.7,343.1 490.2,339.1 498.3,335.0 503.2,330.9 510.0,327.7 516.3,315.1 522.0,307.0 528.5,300.4 534.2,290.7 538.2,287.4 542.3,284.2 548.8,292.3 554.5,290.7 565.1,281.7 570.8,281.7 580.0,287.0 584.1,289.4 588.1,282.1 591.4,273.2 596.3,259.3 602.8,255.2 609.3,251.2 616.6,247.9 624.0,243.8 630.5,236.5 637.0,230.0 640.3,222.1 646.9,226.1 652.5,227.0 658.2,220.4 663.1,217.2 668.0,215.4 675.7,215.2 681.4,208.5 688.5,201.4 694.2,199.2 699.2,202.1 704.2,205.3 711.3,204.9 717.0,198.5 722.0,189.2 726.5,181.0 732.1,170.7 738.2,164.6 742.5,162.7 748.6,163.3 752.9,161.5 756.5,160.9 761.4,156.6 766.9,151.1" stroke="#ff00ff" stroke-width="1.1"/></g><g stroke="#0000ff" stroke-width="1" shape-rendering="crispEdges"><path d="M80.5 645.0 V659.0"/><path d="M78 650.5 H83"/><path d="M87.5 637.0 V655.0"/><rect x="85.5" y="642.5" width="4" height="7" fill="#fff"/><path d="M94.5 634.0 V653.0"/><path d="M92 639.5 H97"/><path d="M101.5 634.0 V661.0"/><rect x="99.5" y="634.5" width="4" height="25" fill="#0000ff"/><path d="M108.5 619.0 V656.0"/><rect x="106.5" y="621.5" width="4" height="29" fill="#fff"/><path d="M115.5 617.0 V633.0"/><rect x="113.5" y="624.5" width="4" height="3" fill="#fff"/><path d="M122.5 568.0 V599.0"/><rect x="120.5" y="575.5" width="4" height="22" fill="#fff"/><path d="M129.5 560.0 V576.0"/><path d="M127 571.5 H132"/><path d="M136.5 566.0 V581.0"/><rect x="134.5" y="567.5" width="4" height="8" fill="#fff"/><path d="M143.5 562.0 V573.0"/><rect x="141.5" y="565.5" width="4" height="3" fill="#fff"/><path d="M150.5 541.0 V568.0"/><rect x="148.5" y="546.5" width="4" height="20" fill="#fff"/><path d="M157.5 549.0 V559.0"/><path d="M155 551.5 H160"/><path d="M164.5 535.0 V547.0"/><rect x="162.5" y="541.5" width="4" height="2" fill="#fff"/><path d="M171.5 540.0 V544.0"/><rect x="169.5" y="540.5" width="4" height="2" fill="#fff"/><path d="M178.5 540.0 V548.0"/><rect x="176.5" y="543.5" width="4" height="2" fill="#0000ff"/><path d="M185.5 535.0 V550.0"/><rect x="183.5" y="543.5" width="4" height="4" fill="#fff"/><path d="M192.5 523.0 V547.0"/><rect x="190.5" y="533.5" width="4" height="12" fill="#0000ff"/><path d="M199.5 534.0 V552.0"/><rect x="197.5" y="536.5" width="4" height="6" fill="#fff"/><path d="M206.5 517.0 V542.0"/><rect x="204.5" y="519.5" width="4" height="21" fill="#fff"/><path d="M213.5 532.0 V546.0"/><rect x="211.5" y="534.5" width="4" height="3" fill="#fff"/><path d="M220.5 530.0 V544.0"/><rect x="218.5" y="536.5" width="4" height="5" fill="#fff"/><path d="M227.5 522.0 V547.0"/><rect x="225.5" y="524.5" width="4" height="22" fill="#0000ff"/><path d="M234.5 523.0 V537.0"/><rect x="232.5" y="526.5" width="4" height="8" fill="#fff"/><path d="M241.5 511.0 V533.0"/><rect x="239.5" y="514.5" width="4" height="16" fill="#fff"/><path d="M248.5 503.0 V522.0"/><rect x="246.5" y="505.5" width="4" height="15" fill="#fff"/><path d="M255.5 492.0 V512.0"/><rect x="253.5" y="492.5" width="4" height="16" fill="#fff"/><path d="M262.5 455.0 V492.0"/><rect x="260.5" y="456.5" width="4" height="34" fill="#fff"/><path d="M269.5 439.0 V463.0"/><path d="M267 449.5 H272"/><path d="M276.5 446.0 V457.0"/><rect x="274.5" y="449.5" width="4" height="3" fill="#fff"/><path d="M283.5 433.0 V447.0"/><rect x="281.5" y="438.5" width="4" height="7" fill="#fff"/><path d="M290.5 420.0 V438.0"/><rect x="288.5" y="422.5" width="4" height="14" fill="#fff"/><path d="M297.5 416.0 V464.0"/><rect x="295.5" y="423.5" width="4" height="39" fill="#0000ff"/><path d="M304.5 432.0 V455.0"/><rect x="302.5" y="434.5" width="4" height="12" fill="#fff"/><path d="M311.5 420.0 V439.0"/><path d="M309 430.5 H314"/><path d="M318.5 412.0 V430.0"/><rect x="316.5" y="418.5" width="4" height="10" fill="#fff"/><path d="M325.5 412.0 V421.0"/><rect x="323.5" y="414.5" width="4" height="4" fill="#fff"/><path d="M332.5 407.0 V414.0"/><rect x="330.5" y="411.5" width="4" height="2" fill="#0000ff"/><path d="M339.5 410.0 V431.0"/><rect x="337.5" y="413.5" width="4" height="7" fill="#0000ff"/><path d="M346.5 430.0 V448.0"/><rect x="344.5" y="434.5" width="4" height="2" fill="#0000ff"/><path d="M353.5 444.0 V460.0"/><rect x="351.5" y="446.5" width="4" height="12" fill="#0000ff"/><path d="M360.5 446.0 V467.0"/><rect x="358.5" y="461.5" width="4" height="5" fill="#0000ff"/><path d="M367.5 448.0 V470.0"/><rect x="365.5" y="462.5" width="4" height="3" fill="#fff"/><path d="M374.5 423.0 V461.0"/><rect x="372.5" y="424.5" width="4" height="35" fill="#fff"/><path d="M381.5 424.0 V443.0"/><rect x="379.5" y="429.5" width="4" height="7" fill="#fff"/><path d="M388.5 410.0 V429.0"/><rect x="386.5" y="413.5" width="4" height="13" fill="#fff"/><path d="M395.5 404.0 V437.0"/><rect x="393.5" y="408.5" width="4" height="8" fill="#0000ff"/><path d="M402.5 402.0 V421.0"/><rect x="400.5" y="408.5" width="4" height="4" fill="#0000ff"/><path d="M409.5 416.0 V433.0"/><rect x="407.5" y="420.5" width="4" height="4" fill="#0000ff"/><path d="M416.5 431.0 V451.0"/><path d="M414 438.5 H419"/><path d="M423.5 411.0 V437.0"/><rect x="421.5" y="414.5" width="4" height="13" fill="#fff"/><path d="M430.5 380.0 V410.0"/><rect x="428.5" y="381.5" width="4" height="25" fill="#fff"/><path d="M437.5 366.0 V379.0"/><rect x="435.5" y="373.5" width="4" height="3" fill="#0000ff"/><path d="M444.5 366.0 V379.0"/><rect x="442.5" y="368.5" width="4" height="3" fill="#fff"/><path d="M451.5 345.0 V367.0"/><rect x="449.5" y="353.5" width="4" height="13" fill="#0000ff"/><path d="M458.5 348.0 V364.0"/><rect x="456.5" y="350.5" width="4" height="4" fill="#fff"/><path d="M465.5 343.0 V357.0"/><rect x="463.5" y="352.5" width="4" height="3" fill="#0000ff"/><path d="M472.5 330.0 V353.0"/><rect x="470.5" y="331.5" width="4" height="20" fill="#fff"/><path d="M479.5 330.0 V338.0"/><path d="M477 333.5 H482"/><path d="M486.5 343.0 V381.0"/><rect x="484.5" y="347.5" width="4" height="32" fill="#0000ff"/><path d="M493.5 342.0 V374.0"/><rect x="491.5" y="343.5" width="4" height="27" fill="#fff"/><path d="M500.5 304.0 V342.0"/><rect x="498.5" y="314.5" width="4" height="24" fill="#fff"/><path d="M507.5 315.0 V338.0"/><rect x="505.5" y="315.5" width="4" height="9" fill="#0000ff"/><path d="M514.5 315.0 V328.0"/><rect x="512.5" y="316.5" width="4" height="3" fill="#fff"/><path d="M521.5 290.0 V309.0"/><rect x="519.5" y="293.5" width="4" height="13" fill="#fff"/><path d="M528.5 290.0 V298.0"/><path d="M526 292.5 H531"/><path d="M535.5 273.0 V291.0"/><rect x="533.5" y="275.5" width="4" height="13" fill="#fff"/><path d="M542.5 262.0 V282.0"/><rect x="540.5" y="275.5" width="4" height="4" fill="#0000ff"/><path d="M549.5 306.0 V336.0"/><rect x="547.5" y="308.5" width="4" height="10" fill="#0000ff"/><path d="M556.5 289.0 V316.0"/><rect x="554.5" y="290.5" width="4" height="14" fill="#fff"/><path d="M563.5 272.0 V291.0"/><rect x="561.5" y="274.5" width="4" height="15" fill="#fff"/><path d="M570.5 269.0 V291.0"/><rect x="568.5" y="274.5" width="4" height="14" fill="#0000ff"/><path d="M577.5 294.0 V317.0"/><rect x="575.5" y="296.5" width="4" height="8" fill="#0000ff"/><path d="M584.5 300.0 V322.0"/><rect x="582.5" y="301.5" width="4" height="11" fill="#fff"/><path d="M591.5 237.0 V271.0"/><rect x="589.5" y="241.5" width="4" height="28" fill="#fff"/><path d="M598.5 228.0 V245.0"/><rect x="596.5" y="233.5" width="4" height="7" fill="#0000ff"/><path d="M605.5 235.0 V254.0"/><rect x="603.5" y="237.5" width="4" height="15" fill="#0000ff"/><path d="M612.5 245.0 V258.0"/><rect x="610.5" y="246.5" width="4" height="2" fill="#fff"/><path d="M619.5 248.0 V258.0"/><path d="M617 251.5 H622"/><path d="M626.5 232.0 V255.0"/><rect x="624.5" y="236.5" width="4" height="6" fill="#fff"/><path d="M633.5 211.0 V236.0"/><rect x="631.5" y="213.5" width="4" height="22" fill="#fff"/><path d="M640.5 206.0 V217.0"/><path d="M638 216.5 H643"/><path d="M647.5 226.0 V258.0"/><rect x="645.5" y="227.5" width="4" height="19" fill="#0000ff"/><path d="M654.5 218.0 V238.0"/><rect x="652.5" y="230.5" width="4" height="2" fill="#0000ff"/><path d="M661.5 197.0 V218.0"/><rect x="659.5" y="201.5" width="4" height="16" fill="#fff"/><path d="M668.5 183.0 V224.0"/><rect x="666.5" y="197.5" width="4" height="24" fill="#0000ff"/><path d="M675.5 221.0 V239.0"/><rect x="673.5" y="224.5" width="4" height="3" fill="#fff"/><path d="M682.5 190.0 V226.0"/><rect x="680.5" y="190.5" width="4" height="24" fill="#fff"/><path d="M689.5 190.0 V205.0"/><rect x="687.5" y="192.5" width="4" height="6" fill="#0000ff"/><path d="M696.5 190.0 V221.0"/><rect x="694.5" y="191.5" width="4" height="15" fill="#0000ff"/><path d="M703.5 213.0 V232.0"/><rect x="701.5" y="221.5" width="4" height="3" fill="#0000ff"/><path d="M710.5 191.0 V209.0"/><rect x="708.5" y="203.5" width="4" height="4" fill="#0000ff"/><path d="M717.5 188.0 V217.0"/><rect x="715.5" y="190.5" width="4" height="22" fill="#fff"/><path d="M724.5 163.0 V192.0"/><rect x="722.5" y="163.5" width="4" height="25" fill="#fff"/><path d="M731.5 143.0 V157.0"/><rect x="729.5" y="147.5" width="4" height="7" fill="#0000ff"/><path d="M738.5 151.0 V161.0"/><rect x="736.5" y="152.5" width="4" height="7" fill="#0000ff"/><path d="M745.5 161.0 V168.0"/><path d="M743 166.5 H748"/><path d="M752.5 157.0 V177.0"/><rect x="750.5" y="161.5" width="4" height="14" fill="#0000ff"/><path d="M759.5 149.0 V169.0"/><rect x="757.5" y="150.5" width="4" height="12" fill="#fff"/><path d="M766.5 141.0 V152.0"/><rect x="764.5" y="147.5" width="4" height="3" fill="#fff"/></g><g fill="none" stroke-linecap="butt" stroke-linejoin="bevel"><path d="M276.4 361.5 V386.9 M270.2 372.9 L276.4 386.9 L282.6 372.9" stroke="#ff00ff" stroke-width="1.2"/><path d="M402.2 338.5 V363.9 M396.0 349.9 L402.2 363.9 L408.4 349.9" stroke="#ff00ff" stroke-width="1.2"/><path d="M423.5 339.2 V364.6 M417.3 350.6 L423.5 364.6 L429.7 350.6" stroke="#ff00ff" stroke-width="1.2"/><path d="M220.5 456.3 V481.7 M214.3 467.7 L220.5 481.7 L226.7 467.7" stroke="#ff00ff" stroke-width="1.2"/><path d="M640.5 182.6 V208.0 M634.3 194.0 L640.5 208.0 L646.7 194.0" stroke="#ff00ff" stroke-width="1.2"/><path d="M787.5 100.2 V125.6 M781.3 111.6 L787.5 125.6 L793.7 111.6" stroke="#ff00ff" stroke-width="1.2"/><path d="M185.9 456.3 V481.7 M179.7 467.7 L185.9 481.7 L192.1 467.7" stroke="#008080" stroke-width="1.2"/><path d="M213.7 457.3 V482.7 M207.5 468.7 L213.7 482.7 L219.9 468.7" stroke="#008080" stroke-width="1.2"/><path d="M367.4 340.2 V365.6 M361.2 351.6 L367.4 365.6 L373.6 351.6" stroke="#008080" stroke-width="1.2"/><path d="M395.5 336.1 V361.5 M389.3 347.5 L395.5 361.5 L401.7 347.5" stroke="#008080" stroke-width="1.2"/><path d="M514.3 279.0 V304.4 M508.1 290.4 L514.3 304.4 L520.5 290.4" stroke="#008080" stroke-width="1.2"/><path d="M227.0 484.0 V509.0 M217.7 488.0 L227.0 509.0 L236.3 488.0" stroke="#808080" stroke-width="2.2"/><path d="M296.9 484.2 V509.2 M287.6 488.2 L296.9 509.2 L306.2 488.2" stroke="#808080" stroke-width="2.2"/><path d="M345.9 393.1 V418.1 M336.6 397.1 L345.9 418.1 L355.2 397.1" stroke="#808080" stroke-width="2.2"/><path d="M416.0 383.2 V408.2 M406.7 387.2 L416.0 408.2 L425.3 387.2" stroke="#808080" stroke-width="2.2"/><path d="M486.1 310.6 V335.6 M476.8 314.6 L486.1 335.6 L495.4 314.6" stroke="#808080" stroke-width="2.2"/><path d="M548.9 252.5 V277.5 M539.6 256.5 L548.9 277.5 L558.2 256.5" stroke="#808080" stroke-width="2.2"/><path d="M577.0 244.3 V269.3 M567.7 248.3 L577.0 269.3 L586.3 248.3" stroke="#808080" stroke-width="2.2"/><path d="M647.3 196.0 V221.0 M638.0 200.0 L647.3 221.0 L656.6 200.0" stroke="#808080" stroke-width="2.2"/><path d="M702.9 168.3 V193.3 M693.6 172.3 L702.9 193.3 L712.2 172.3" stroke="#808080" stroke-width="2.2"/><path d="M367.0 519.2 V488.9 M358.0 509.9 L367.0 488.9 L376.0 509.9" stroke="#808080" stroke-width="2.2"/><path d="M359.9 412.3 V437.3 M350.3 416.2 L359.9 437.3 L369.5 416.2" stroke="#ff0000" stroke-width="2.4"/><path d="M416.3 409.0 V423.3 M410.2 409.7 L416.3 423.3 L422.4 409.7" stroke="#ff0000" stroke-width="1.2"/><path d="M234.3 643.9 V612.1 M225.3 633.1 L234.3 612.1 L243.3 633.1" stroke="#00ff00" stroke-width="2.2"/><path d="M303.8 546.0 V514.2 M294.8 535.2 L303.8 514.2 L312.8 535.2" stroke="#00ff00" stroke-width="2.2"/><path d="M374.5 502.4 V470.6 M365.5 491.6 L374.5 470.6 L383.5 491.6" stroke="#00ff00" stroke-width="2.2"/><path d="M423.0 488.1 V456.3 M414.0 477.3 L423.0 456.3 L432.0 477.3" stroke="#00ff00" stroke-width="2.2"/><path d="M493.6 436.1 V404.3 M484.6 425.3 L493.6 404.3 L502.6 425.3" stroke="#00ff00" stroke-width="2.2"/><path d="M556.2 389.1 V357.3 M547.2 378.3 L556.2 357.3 L565.2 378.3" stroke="#00ff00" stroke-width="2.2"/><path d="M590.9 375.1 V343.3 M581.9 364.3 L590.9 343.3 L599.9 364.3" stroke="#00ff00" stroke-width="2.2"/><path d="M654.1 297.9 V266.1 M645.1 287.1 L654.1 266.1 L663.1 287.1" stroke="#00ff00" stroke-width="2.2"/><path d="M709.6 282.0 V250.2 M700.6 271.2 L709.6 250.2 L718.6 271.2" stroke="#00ff00" stroke-width="2.2"/></g><text x="725.4" y="282.2" textLength="101.9" lengthAdjust="spacingAndGlyphs" font-family="Liberation Sans" font-weight="bold" font-size="13" fill="#000">S/T BUY SIGNAL</text></svg><div class="a" style="left:836px;top:231px;width:50px;height:1px;background:#ff0000"></div><div class="a" style="left:836px;top:414px;width:57px;height:1px;background:#ff0000"></div><div class="a" style="left:836px;top:597px;width:57px;height:1px;background:#ff0000"></div><div class="a" style="left:836px;top:692px;width:57px;height:1px;background:#ff0000"></div><svg style="left:1189px;top:111px" width="59" height="638" viewBox="1189 111 59 638" shape-rendering="crispEdges"><rect x="1190" y="116" width="1" height="1" fill="#000"/><rect x="1190" y="121" width="6" height="1.4" fill="#000"/><rect x="1190" y="127" width="1" height="1" fill="#000"/><rect x="1190" y="133" width="1" height="1" fill="#000"/><rect x="1190" y="138" width="1" height="1" fill="#000"/><rect x="1190" y="144" width="1" height="1" fill="#000"/><rect x="1190" y="150" width="3" height="1.4" fill="#000"/><rect x="1190" y="155" width="1" height="1" fill="#000"/><rect x="1190" y="161" width="1" height="1" fill="#000"/><rect x="1190" y="167" width="1" height="1" fill="#000"/><rect x="1190" y="172" width="1" height="1" fill="#000"/><rect x="1190" y="178" width="6" height="1.4" fill="#000"/><rect x="1190" y="184" width="1" height="1" fill="#000"/><rect x="1190" y="189" width="1" height="1" fill="#000"/><rect x="1190" y="195" width="1" height="1" fill="#000"/><rect x="1190" y="200" width="1" height="1" fill="#000"/><rect x="1190" y="206" width="3" height="1.4" fill="#000"/><rect x="1190" y="212" width="1" height="1" fill="#000"/><rect x="1190" y="217" width="1" height="1" fill="#000"/><rect x="1190" y="223" width="1" height="1" fill="#000"/><rect x="1190" y="229" width="1" height="1" fill="#000"/><rect x="1190" y="234" width="6" height="1.4" fill="#000"/><rect x="1190" y="240" width="1" height="1" fill="#000"/><rect x="1190" y="246" width="1" height="1" fill="#000"/><rect x="1190" y="251" width="1" height="1" fill="#000"/><rect x="1190" y="257" width="1" height="1" fill="#000"/><rect x="1190" y="263" width="3" height="1.4" fill="#000"/><rect x="1190" y="268" width="1" height="1" fill="#000"/><rect x="1190" y="274" width="1" height="1" fill="#000"/><rect x="1190" y="279" width="1" height="1" fill="#000"/><rect x="1190" y="285" width="1" height="1" fill="#000"/><rect x="1190" y="291" width="6" height="1.4" fill="#000"/><rect x="1190" y="296" width="1" height="1" fill="#000"/><rect x="1190" y="302" width="1" height="1" fill="#000"/><rect x="1190" y="308" width="1" height="1" fill="#000"/><rect x="1190" y="313" width="1" height="1" fill="#000"/><rect x="1190" y="319" width="3" height="1.4" fill="#000"/><rect x="1190" y="325" width="1" height="1" fill="#000"/><rect x="1190" y="330" width="1" height="1" fill="#000"/><rect x="1190" y="336" width="1" height="1" fill="#000"/><rect x="1190" y="342" width="1" height="1" fill="#000"/><rect x="1190" y="347" width="6" height="1.4" fill="#000"/><rect x="1190" y="353" width="1" height="1" fill="#000"/><rect x="1190" y="359" width="1" height="1" fill="#000"/><rect x="1190" y="364" width="1" height="1" fill="#000"/><rect x="1190" y="370" width="1" height="1" fill="#000"/><rect x="1190" y="375" width="3" height="1.4" fill="#000"/><rect x="1190" y="381" width="1" height="1" fill="#000"/><rect x="1190" y="387" width="1" height="1" fill="#000"/><rect x="1190" y="392" width="1" height="1" fill="#000"/><rect x="1190" y="398" width="1" height="1" fill="#000"/><rect x="1190" y="404" width="6" height="1.4" fill="#000"/><rect x="1190" y="409" width="1" height="1" fill="#000"/><rect x="1190" y="415" width="1" height="1" fill="#000"/><rect x="1190" y="421" width="1" height="1" fill="#000"/><rect x="1190" y="426" width="1" height="1" fill="#000"/><rect x="1190" y="432" width="3" height="1.4" fill="#000"/><rect x="1190" y="438" width="1" height="1" fill="#000"/><rect x="1190" y="443" width="1" height="1" fill="#000"/><rect x="1190" y="449" width="1" height="1" fill="#000"/><rect x="1190" y="455" width="1" height="1" fill="#000"/><rect x="1190" y="460" width="6" height="1.4" fill="#000"/><rect x="1190" y="466" width="1" height="1" fill="#000"/><rect x="1190" y="471" width="1" height="1" fill="#000"/><rect x="1190" y="477" width="1" height="1" fill="#000"/><rect x="1190" y="483" width="1" height="1" fill="#000"/><rect x="1190" y="488" width="3" height="1.4" fill="#000"/><rect x="1190" y="494" width="1" height="1" fill="#000"/><rect x="1190" y="500" width="1" height="1" fill="#000"/><rect x="1190" y="505" width="1" height="1" fill="#000"/><rect x="1190" y="511" width="1" height="1" fill="#000"/><rect x="1190" y="517" width="6" height="1.4" fill="#000"/><rect x="1190" y="522" width="1" height="1" fill="#000"/><rect x="1190" y="528" width="1" height="1" fill="#000"/><rect x="1190" y="534" width="1" height="1" fill="#000"/><rect x="1190" y="539" width="1" height="1" fill="#000"/><rect x="1190" y="545" width="3" height="1.4" fill="#000"/><rect x="1190" y="550" width="1" height="1" fill="#000"/><rect x="1190" y="556" width="1" height="1" fill="#000"/><rect x="1190" y="562" width="1" height="1" fill="#000"/><rect x="1190" y="567" width="1" height="1" fill="#000"/><rect x="1190" y="573" width="6" height="1.4" fill="#000"/><rect x="1190" y="579" width="1" height="1" fill="#000"/><rect x="1190" y="584" width="1" height="1" fill="#000"/><rect x="1190" y="590" width="1" height="1" fill="#000"/><rect x="1190" y="596" width="1" height="1" fill="#000"/><rect x="1190" y="601" width="3" height="1.4" fill="#000"/><rect x="1190" y="607" width="1" height="1" fill="#000"/><rect x="1190" y="613" width="1" height="1" fill="#000"/><rect x="1190" y="618" width="1" height="1" fill="#000"/><rect x="1190" y="624" width="1" height="1" fill="#000"/><rect x="1190" y="630" width="6" height="1.4" fill="#000"/><rect x="1190" y="635" width="1" height="1" fill="#000"/><rect x="1190" y="641" width="1" height="1" fill="#000"/><rect x="1190" y="646" width="1" height="1" fill="#000"/><rect x="1190" y="652" width="1" height="1" fill="#000"/><rect x="1190" y="658" width="3" height="1.4" fill="#000"/><rect x="1190" y="663" width="1" height="1" fill="#000"/><rect x="1190" y="669" width="1" height="1" fill="#000"/><rect x="1190" y="675" width="1" height="1" fill="#000"/><rect x="1190" y="680" width="1" height="1" fill="#000"/><rect x="1190" y="686" width="6" height="1.4" fill="#000"/><rect x="1190" y="692" width="1" height="1" fill="#000"/><rect x="1190" y="697" width="1" height="1" fill="#000"/><rect x="1190" y="703" width="1" height="1" fill="#000"/><rect x="1190" y="709" width="1" height="1" fill="#000"/><rect x="1190" y="714" width="3" height="1.4" fill="#000"/><rect x="1190" y="720" width="1" height="1" fill="#000"/><rect x="1190" y="726" width="1" height="1" fill="#000"/><rect x="1190" y="731" width="1" height="1" fill="#000"/><rect x="1190" y="737" width="1" height="1" fill="#000"/><rect x="1190" y="742" width="6" height="1.4" fill="#000"/></svg><svg style="left:78px;top:755px" width="1110" height="166" viewBox="78 755 1110 166"><g stroke="#0000ff" stroke-width="1" shape-rendering="crispEdges"><path d="M80.5 906 V914"/><path d="M87.5 884 V907"/><path d="M94.5 862 V907"/><path d="M101.5 852 V907"/><path d="M108.5 848 V907"/><path d="M115.5 843 V907"/><path d="M122.5 831 V907"/><path d="M129.5 818 V907"/><path d="M136.5 803 V907"/><path d="M143.5 790 V907"/><path d="M150.5 778 V907"/><path d="M157.5 776 V907"/><path d="M164.5 776 V907"/><path d="M171.5 774 V907"/><path d="M178.5 774 V907"/><path d="M185.5 776 V907"/><path d="M192.5 775 V907"/><path d="M199.5 779 V907"/><path d="M206.5 781 V907"/><path d="M213.5 784 V907"/><path d="M220.5 787 V907"/><path d="M227.5 791 V907"/><path d="M234.5 792 V907"/><path d="M241.5 796 V907"/><path d="M248.5 796 V907"/><path d="M255.5 796 V907"/><path d="M262.5 789 V907"/><path d="M269.5 780 V907"/><path d="M276.5 774 V907"/><path d="M283.5 768 V907"/><path d="M290.5 762 V907"/><path d="M297.5 765 V907"/><path d="M304.5 773 V907"/><path d="M311.5 777 V907"/><path d="M318.5 780 V907"/><path d="M325.5 786 V907"/><path d="M332.5 787 V907"/><path d="M339.5 789 V907"/><path d="M346.5 799 V907"/><path d="M353.5 813 V907"/><path d="M360.5 829 V907"/><path d="M367.5 845 V907"/><path d="M374.5 855 V907"/><path d="M381.5 859 V907"/><path d="M388.5 856 V907"/><path d="M395.5 852 V907"/><path d="M402.5 845 V907"/><path d="M409.5 845 V907"/><path d="M416.5 851 V907"/><path d="M423.5 856 V907"/><path d="M430.5 855 V907"/><path d="M437.5 851 V907"/><path d="M444.5 845 V907"/><path d="M451.5 829 V907"/><path d="M458.5 819 V907"/><path d="M465.5 814 V907"/><path d="M472.5 814 V907"/><path d="M479.5 811 V907"/><path d="M486.5 818 V907"/><path d="M493.5 824 V907"/><path d="M500.5 823 V907"/><path d="M507.5 825 V907"/><path d="M514.5 826 V907"/><path d="M521.5 816 V907"/><path d="M528.5 805 V907"/><path d="M535.5 800 V907"/><path d="M542.5 793 V907"/><path d="M549.5 797 V907"/><path d="M556.5 803 V907"/><path d="M563.5 804 V907"/><path d="M570.5 809 V907"/><path d="M577.5 820 V907"/><path d="M584.5 822 V907"/><path d="M591.5 817 V907"/><path d="M598.5 812 V907"/><path d="M605.5 811 V907"/><path d="M612.5 805 V907"/><path d="M619.5 797 V907"/><path d="M626.5 802 V907"/><path d="M633.5 806 V907"/><path d="M640.5 805 V907"/><path d="M647.5 809 V907"/><path d="M654.5 810 V907"/><path d="M661.5 809 V907"/><path d="M668.5 812 V907"/><path d="M675.5 822 V907"/><path d="M682.5 820 V907"/><path d="M689.5 818 V907"/><path d="M696.5 823 V907"/><path d="M703.5 832 V907"/><path d="M710.5 830 V907"/><path d="M717.5 834 V907"/><path d="M724.5 835 V907"/><path d="M731.5 828 V907"/><path d="M738.5 818 V907"/><path d="M745.5 816 V907"/><path d="M752.5 813 V907"/><path d="M759.5 814 V907"/><path d="M766.5 818 V907"/></g><polyline points="80.9,860.5 84.1,861.7 94.0,861.7 108.6,860.5 115.1,859.2 124.9,856.8 136.2,853.5 142.8,850.3 150.9,846.2 163.9,839.7 178.6,832.3 186.7,829.9 199.8,824.2 214.4,820.1 227.4,817.4 245.3,815.3 256.3,813.3 269.3,810.4 282.3,806.8 297.0,802.5 308.4,799.3 318.2,798.2 331.2,797.3 347.5,797.3 360.5,799.3 370.3,803.0 386.6,810.4 401.2,814.4 410.0,815.6 421.3,818.5 431.0,821.4 444.1,824.5 458.7,824.5 466.9,823.4 476.6,822.6 522.2,822.3 535.3,820.1 548.3,818.8 561.3,816.4 607.3,816.6 617.1,814.4 628.5,814.4 631.8,813.1 656.2,813.1 659.4,812.3 670.8,812.3 674.1,813.1 692.0,813.1 703.4,815.3 719.7,818.2 735.0,818.5 766.4,818.3" fill="none" stroke="#000" stroke-width="1.1" shape-rendering="crispEdges"/><path d="M346.2 755.0 V777.5 M336.6 756.0 L346.2 777.5 L355.8 756.0" fill="none" stroke="#ff0000" stroke-width="2.2"/><path d="M492.9 755.0 V803.5 M483.3 782.0 L492.9 803.5 L502.5 782.0" fill="none" stroke="#ff0000" stroke-width="2.2"/><path d="M576.7 755.0 V798.6 M567.1 777.1 L576.7 798.6 L586.3 777.1" fill="none" stroke="#ff0000" stroke-width="2.2"/><path d="M674.9 755.0 V799.3 M665.3 777.8 L674.9 799.3 L684.5 777.8" fill="none" stroke="#ff0000" stroke-width="2.2"/><path d="M765.9 759.0 V810.6 M756.3 789.1 L765.9 810.6 L775.5 789.1" fill="none" stroke="#ff0000" stroke-width="2.2"/><text x="780" y="773" textLength="109" lengthAdjust="spacing" font-family="Liberation Sans" font-weight="bold" font-size="13" fill="#000">OSC SELL Signal</text><text x="78.5" y="767.5" font-family="Liberation Sans" font-weight="bold" font-size="12.5" fill="#000">Osc 5,35</text></svg><svg style="left:1189px;top:755px" width="59" height="156" viewBox="1189 755 59 156" shape-rendering="crispEdges"><rect x="1190" y="909" width="1" height="1" fill="#000"/><rect x="1190" y="906" width="6" height="1.4" fill="#000"/><rect x="1190" y="902" width="1" height="1" fill="#000"/><rect x="1190" y="899" width="1" height="1" fill="#000"/><rect x="1190" y="895" width="1" height="1" fill="#000"/><rect x="1190" y="892" width="1" height="1" fill="#000"/><rect x="1190" y="888" width="3" height="1.4" fill="#000"/><rect x="1190" y="885" width="1" height="1" fill="#000"/><rect x="1190" y="881" width="1" height="1" fill="#000"/><rect x="1190" y="878" width="1" height="1" fill="#000"/><rect x="1190" y="874" width="1" height="1" fill="#000"/><rect x="1190" y="871" width="6" height="1.4" fill="#000"/><rect x="1190" y="867" width="1" height="1" fill="#000"/><rect x="1190" y="864" width="1" height="1" fill="#000"/><rect x="1190" y="860" width="1" height="1" fill="#000"/><rect x="1190" y="857" width="1" height="1" fill="#000"/><rect x="1190" y="853" width="3" height="1.4" fill="#000"/><rect x="1190" y="850" width="1" height="1" fill="#000"/><rect x="1190" y="846" width="1" height="1" fill="#000"/><rect x="1190" y="843" width="1" height="1" fill="#000"/><rect x="1190" y="839" width="1" height="1" fill="#000"/><rect x="1190" y="836" width="6" height="1.4" fill="#000"/><rect x="1190" y="832" width="1" height="1" fill="#000"/><rect x="1190" y="829" width="1" height="1" fill="#000"/><rect x="1190" y="825" width="1" height="1" fill="#000"/><rect x="1190" y="822" width="1" height="1" fill="#000"/><rect x="1190" y="818" width="3" height="1.4" fill="#000"/><rect x="1190" y="815" width="1" height="1" fill="#000"/><rect x="1190" y="811" width="1" height="1" fill="#000"/><rect x="1190" y="808" width="1" height="1" fill="#000"/><rect x="1190" y="804" width="1" height="1" fill="#000"/><rect x="1190" y="801" width="6" height="1.4" fill="#000"/><rect x="1190" y="797" width="1" height="1" fill="#000"/><rect x="1190" y="794" width="1" height="1" fill="#000"/><rect x="1190" y="790" width="1" height="1" fill="#000"/><rect x="1190" y="787" width="1" height="1" fill="#000"/><rect x="1190" y="783" width="3" height="1.4" fill="#000"/><rect x="1190" y="780" width="1" height="1" fill="#000"/><rect x="1190" y="776" width="1" height="1" fill="#000"/><rect x="1190" y="773" width="1" height="1" fill="#000"/><rect x="1190" y="769" width="1" height="1" fill="#000"/><rect x="1190" y="766" width="6" height="1.4" fill="#000"/><rect x="1190" y="762" width="1" height="1" fill="#000"/><rect x="1190" y="759" width="1" height="1" fill="#000"/></svg><svg style="left:0;top:0" width="1280" height="983" viewBox="0 0 1280 983"><text x="24.0" y="16.0" textLength="163.0" lengthAdjust="spacingAndGlyphs" font-family="Liberation Sans" font-weight="normal" font-size="12" fill="#f4f4f4" >Advanced GET - [^GSPC, Daily]</text><text x="420.1" y="57.3" textLength="20.1" lengthAdjust="spacingAndGlyphs" font-family="Liberation Serif" font-weight="normal" font-size="10.5" fill="#000" stroke="#000" stroke-width="0.35">ADX</text><text x="425.0" y="65.5" textLength="19.0" lengthAdjust="spacingAndGlyphs" font-family="Liberation Serif" font-weight="normal" font-size="10.5" fill="#000" stroke="#000" stroke-width="0.35">DMI</text><text x="453.0" y="62.8" textLength="19.2" lengthAdjust="spacingAndGlyphs" font-family="Liberation Serif" font-weight="normal" font-size="10.5" fill="#000" stroke="#000" stroke-width="0.35">CCI</text><text x="482.0" y="62.8" textLength="24.2" lengthAdjust="spacingAndGlyphs" font-family="Liberation Serif" font-weight="normal" font-size="10.5" fill="#000" stroke="#000" stroke-width="0.35">Cycles</text><text x="513.7" y="57.3" textLength="21.3" lengthAdjust="spacingAndGlyphs" font-family="Liberation Serif" font-weight="normal" font-size="10.5" fill="#000" stroke="#000" stroke-width="0.35">Elliott</text><text x="517.9" y="65.5" textLength="13.8" lengthAdjust="spacingAndGlyphs" font-family="Liberation Serif" font-weight="normal" font-size="10.5" fill="#000" stroke="#000" stroke-width="0.35">Trig</text><text x="546.0" y="62.8" textLength="18.4" lengthAdjust="spacingAndGlyphs" font-family="Liberation Serif" font-weight="normal" font-size="10.5" fill="#000" stroke="#000" stroke-width="0.35">JTI</text><text x="604.5" y="62.8" textLength="25.0" lengthAdjust="spacingAndGlyphs" font-family="Liberation Serif" font-weight="normal" font-size="10.5" fill="#000" stroke="#000" stroke-width="0.35">OBV</text><text x="637.5" y="57.8" textLength="22.1" lengthAdjust="spacingAndGlyphs" font-family="Liberation Serif" font-weight="normal" font-size="10.5" fill="#000" stroke="#000" stroke-width="0.35">Open</text><text x="639.3" y="65.8" textLength="13.7" lengthAdjust="spacingAndGlyphs" font-family="Liberation Serif" font-weight="normal" font-size="10.5" fill="#000" stroke="#000" stroke-width="0.35">Int</text><text x="671.0" y="62.8" textLength="18.0" lengthAdjust="spacingAndGlyphs" font-family="Liberation Serif" font-weight="normal" font-size="10.5" fill="#000" stroke="#000" stroke-width="0.35">Osc</text><text x="701.9" y="62.8" textLength="18.3" lengthAdjust="spacingAndGlyphs" font-family="Liberation Serif" font-weight="normal" font-size="10.5" fill="#000" stroke="#000" stroke-width="0.35">RSI</text><text x="729.7" y="62.8" textLength="24.3" lengthAdjust="spacingAndGlyphs" font-family="Liberation Serif" font-weight="normal" font-size="10.5" fill="#000" stroke="#000" stroke-width="0.35">Stoch</text><text x="762.0" y="57.8" textLength="21.1" lengthAdjust="spacingAndGlyphs" font-family="Liberation Serif" font-weight="normal" font-size="10.5" fill="#000" stroke="#000" stroke-width="0.35">Time</text><text x="762.0" y="65.8" textLength="22.2" lengthAdjust="spacingAndGlyphs" font-family="Liberation Serif" font-weight="normal" font-size="10.5" fill="#000" stroke="#000" stroke-width="0.35">Clust</text><text x="795.0" y="62.8" textLength="16.8" lengthAdjust="spacingAndGlyphs" font-family="Liberation Serif" font-weight="normal" font-size="10.5" fill="#000" stroke="#000" stroke-width="0.35">Vol</text><text x="822.6" y="57.8" textLength="24.3" lengthAdjust="spacingAndGlyphs" font-family="Liberation Serif" font-weight="normal" font-size="10.5" fill="#000" stroke="#000" stroke-width="0.35">Money</text><text x="827.7" y="65.8" textLength="15.3" lengthAdjust="spacingAndGlyphs" font-family="Liberation Serif" font-weight="normal" font-size="10.5" fill="#000" stroke="#000" stroke-width="0.35">flow</text><text x="574.8" y="62.0" textLength="24.2" lengthAdjust="spacingAndGlyphs" font-family="Liberation Sans" font-weight="bold" font-size="8" fill="#000" >MACD</text><text x="884.0" y="58.5" textLength="10.0" lengthAdjust="spacingAndGlyphs" font-family="Liberation Serif" font-weight="normal" font-size="10" fill="#fff" >60</text><text x="874.0" y="66.2" textLength="30.0" lengthAdjust="spacingAndGlyphs" font-family="Liberation Serif" font-weight="normal" font-size="10" fill="#fff" >Minute</text><text x="883.0" y="57.5" textLength="10.0" lengthAdjust="spacingAndGlyphs" font-family="Liberation Serif" font-weight="normal" font-size="10" fill="#808080" >60</text><text x="873.0" y="65.2" textLength="30.0" lengthAdjust="spacingAndGlyphs" font-family="Liberation Serif" font-weight="normal" font-size="10" fill="#808080" >Minute</text><text x="913.8" y="62.3" textLength="23.0" lengthAdjust="spacingAndGlyphs" font-family="Liberation Serif" font-weight="normal" font-size="10.5" fill="#000" stroke="#000" stroke-width="0.35">Daily</text><text x="947.2" y="62.3" textLength="29.8" lengthAdjust="spacingAndGlyphs" font-family="Liberation Serif" font-weight="normal" font-size="10.5" fill="#000" stroke="#000" stroke-width="0.5">Weekly</text><text x="983.6" y="60.8" textLength="29.7" lengthAdjust="spacingAndGlyphs" font-family="Liberation Sans" font-weight="bold" font-size="9" fill="#000" >Monthly</text><text x="46.3" y="93.6" textLength="21.5" lengthAdjust="spacingAndGlyphs" font-family="Liberation Serif" font-weight="normal" font-size="10" fill="#000" stroke="#000" stroke-width="0.35">Auto</text><text x="45.1" y="101.6" textLength="23.9" lengthAdjust="spacingAndGlyphs" font-family="Liberation Serif" font-weight="normal" font-size="10" fill="#000" stroke="#000" stroke-width="0.35">Gann</text><text x="46.3" y="115.6" textLength="21.5" lengthAdjust="spacingAndGlyphs" font-family="Liberation Serif" font-weight="normal" font-size="10" fill="#000" stroke="#000" stroke-width="0.35">Auto</text><text x="43.3" y="123.6" textLength="26.9" lengthAdjust="spacingAndGlyphs" font-family="Liberation Serif" font-weight="normal" font-size="10" fill="#000" stroke="#000" stroke-width="0.35">Trend</text><text x="48.0" y="142.5" textLength="18.2" lengthAdjust="spacingAndGlyphs" font-family="Liberation Serif" font-weight="normal" font-size="10.5" fill="#000" stroke="#000" stroke-width="0.35">Bias</text><text x="50.3" y="159.6" textLength="15.2" lengthAdjust="spacingAndGlyphs" font-family="Liberation Serif" font-weight="normal" font-size="10" fill="#000" stroke="#000" stroke-width="0.35">Bol</text><text x="45.6" y="167.6" textLength="23.4" lengthAdjust="spacingAndGlyphs" font-family="Liberation Serif" font-weight="normal" font-size="10" fill="#000" stroke="#000" stroke-width="0.35">Band</text><text x="45.9" y="187.5" textLength="23.6" lengthAdjust="spacingAndGlyphs" font-family="Liberation Serif" font-weight="normal" font-size="10.5" fill="#fff" stroke="#fff" stroke-width="0.35">Delta</text><text x="44.9" y="186.5" textLength="23.6" lengthAdjust="spacingAndGlyphs" font-family="Liberation Serif" font-weight="normal" font-size="10.5" fill="#808080" stroke="#808080" stroke-width="0.35">Delta</text><text x="44.4" y="208.5" textLength="24.8" lengthAdjust="spacingAndGlyphs" font-family="Liberation Serif" font-weight="normal" font-size="10.5" fill="#000" stroke="#000" stroke-width="0.35">Donch</text><text x="48.0" y="225.6" textLength="19.4" lengthAdjust="spacingAndGlyphs" font-family="Liberation Serif" font-weight="normal" font-size="10" fill="#000" stroke="#000" stroke-width="0.35">Mov</text><text x="49.1" y="233.6" textLength="17.1" lengthAdjust="spacingAndGlyphs" font-family="Liberation Serif" font-weight="normal" font-size="10" fill="#000" stroke="#000" stroke-width="0.35">Ave</text><text x="45.6" y="247.6" textLength="24.6" lengthAdjust="spacingAndGlyphs" font-family="Liberation Serif" font-weight="normal" font-size="10" fill="#000" stroke="#000" stroke-width="0.35">Para-</text><text x="45.6" y="255.6" textLength="20.6" lengthAdjust="spacingAndGlyphs" font-family="Liberation Serif" font-weight="normal" font-size="10" fill="#000" stroke="#000" stroke-width="0.35">bolic</text><text x="45.6" y="274.5" textLength="22.7" lengthAdjust="spacingAndGlyphs" font-family="Liberation Serif" font-weight="normal" font-size="10.5" fill="#000" stroke="#000" stroke-width="0.35">Pivot</text><text x="45.6" y="291.6" textLength="22.2" lengthAdjust="spacingAndGlyphs" font-family="Liberation Serif" font-weight="normal" font-size="10" fill="#000" stroke="#000" stroke-width="0.35">Price</text><text x="46.3" y="299.6" textLength="21.5" lengthAdjust="spacingAndGlyphs" font-family="Liberation Serif" font-weight="normal" font-size="10" fill="#000" stroke="#000" stroke-width="0.35">Clust</text><text x="45.9" y="313.6" textLength="21.2" lengthAdjust="spacingAndGlyphs" font-family="Liberation Serif" font-weight="normal" font-size="10" fill="#000" stroke="#000" stroke-width="0.35">Seas-</text><text x="45.9" y="321.6" textLength="22.4" lengthAdjust="spacingAndGlyphs" font-family="Liberation Serif" font-weight="normal" font-size="10" fill="#000" stroke="#000" stroke-width="0.35">onals</text><text x="48.1" y="335.6" textLength="16.8" lengthAdjust="spacingAndGlyphs" font-family="Liberation Serif" font-weight="normal" font-size="10" fill="#000" stroke="#000" stroke-width="0.35">TJ's</text><text x="47.0" y="343.6" textLength="19.0" lengthAdjust="spacingAndGlyphs" font-family="Liberation Serif" font-weight="normal" font-size="10" fill="#000" stroke="#000" stroke-width="0.35">Web</text><text x="44.8" y="357.6" textLength="23.5" lengthAdjust="spacingAndGlyphs" font-family="Liberation Serif" font-weight="normal" font-size="10" fill="#000" stroke="#000" stroke-width="0.35">Trade</text><text x="44.3" y="365.6" textLength="24.6" lengthAdjust="spacingAndGlyphs" font-family="Liberation Serif" font-weight="normal" font-size="10" fill="#000" stroke="#000" stroke-width="0.35">Profile</text><text x="47.0" y="385.0" textLength="7.5" lengthAdjust="spacingAndGlyphs" font-family="Liberation Serif" font-weight="normal" font-size="13" fill="#0000ff" >X</text><text x="54.5" y="385.0" textLength="7.5" lengthAdjust="spacingAndGlyphs" font-family="Liberation Serif" font-weight="normal" font-size="13" fill="#000" >T</text><text x="62.0" y="385.0" textLength="7.4" lengthAdjust="spacingAndGlyphs" font-family="Liberation Serif" font-weight="normal" font-size="13" fill="#ff0000" >L</text><text x="82.0" y="88.7" textLength="49.6" lengthAdjust="spacingAndGlyphs" font-family="Liberation Sans" font-weight="bold" font-size="13.5" fill="#000" >03/28/24</text><text x="493.0" y="88.6" textLength="14.5" lengthAdjust="spacingAndGlyphs" font-family="Liberation Sans" font-weight="bold" font-size="13.5" fill="#000" >O:</text><text x="511.3" y="88.6" textLength="45.0" lengthAdjust="spacingAndGlyphs" font-family="Liberation Sans" font-weight="bold" font-size="13.5" fill="#000" >5248.03</text><text x="569.3" y="88.6" textLength="12.0" lengthAdjust="spacingAndGlyphs" font-family="Liberation Sans" font-weight="bold" font-size="13.5" fill="#0000ff" >H:</text><text x="587.5" y="88.6" textLength="45.0" lengthAdjust="spacingAndGlyphs" font-family="Liberation Sans" font-weight="bold" font-size="13.5" fill="#000" >5264.85</text><text x="645.5" y="88.6" textLength="10.8" lengthAdjust="spacingAndGlyphs" font-family="Liberation Sans" font-weight="bold" font-size="13.5" fill="#ff0000" >L:</text><text x="663.8" y="88.6" textLength="45.0" lengthAdjust="spacingAndGlyphs" font-family="Liberation Sans" font-weight="bold" font-size="13.5" fill="#000" >5245.82</text><text x="721.3" y="88.6" textLength="12.5" lengthAdjust="spacingAndGlyphs" font-family="Liberation Sans" font-weight="bold" font-size="13.5" fill="#000" >C:</text><text x="739.5" y="88.6" textLength="45.0" lengthAdjust="spacingAndGlyphs" font-family="Liberation Sans" font-weight="bold" font-size="13.5" fill="#000" >5254.35</text><text x="1212.5" y="88.6" textLength="31.8" lengthAdjust="spacingAndGlyphs" font-family="Liberation Sans" font-weight="bold" font-size="13.5" fill="#0000ff" >+5.86</text><text x="1195.3" y="108.0" textLength="45.0" lengthAdjust="spacingAndGlyphs" font-family="Liberation Sans" font-weight="bold" font-size="13.5" fill="#000" >5332.39</text><text x="1209.0" y="922.6" textLength="17.0" lengthAdjust="spacingAndGlyphs" font-family="Liberation Sans" font-weight="bold" font-size="13.5" fill="#000" >-17</text><text x="122.3" y="932.5" textLength="43.2" lengthAdjust="spacingAndGlyphs" font-family="Liberation Sans" font-weight="normal" font-size="11.5" fill="#101028" >Osc 5,35</text><text x="176.3" y="932.5" textLength="30.4" lengthAdjust="spacingAndGlyphs" font-family="Liberation Sans" font-weight="normal" font-size="11.5" fill="#101028" >CCI 20</text><text x="217.9" y="932.5" textLength="74.1" lengthAdjust="spacingAndGlyphs" font-family="Liberation Sans" font-weight="normal" font-size="11.5" fill="#101028" >MACD 19, 39, 9</text><text x="302.2" y="932.5" textLength="72.7" lengthAdjust="spacingAndGlyphs" font-family="Liberation Sans" font-weight="normal" font-size="11.5" fill="#101028" >Money Flow 11</text><text x="386.5" y="932.5" textLength="54.1" lengthAdjust="spacingAndGlyphs" font-family="Liberation Sans" font-weight="normal" font-size="11.5" fill="#101028" >RSI 14, 7, 3</text><text x="451.2" y="932.5" textLength="48.9" lengthAdjust="spacingAndGlyphs" font-family="Liberation Sans" font-weight="normal" font-size="11.5" fill="#101028" >RSI 2, 7, 3</text><text x="510.1" y="932.5" textLength="94.7" lengthAdjust="spacingAndGlyphs" font-family="Liberation Sans" font-weight="normal" font-size="11.5" fill="#101028" >On Balance Volume</text><text x="1200.9" y="957.5" textLength="35.1" lengthAdjust="spacingAndGlyphs" font-family="Liberation Sans" font-weight="bold" font-size="13.5" fill="#0000ff" >#2963</text><text x="2.0" y="979.5" textLength="93.0" lengthAdjust="spacingAndGlyphs" font-family="Liberation Sans" font-weight="normal" font-size="12" fill="#000" >For Help, press F1</text><text x="956.0" y="980.0" textLength="133.0" lengthAdjust="spacingAndGlyphs" font-family="Liberation Sans" font-weight="normal" font-size="12" fill="#000" >Page: 14 - SP 500 for blog</text><text x="941.6" y="157.6" textLength="169.4" lengthAdjust="spacingAndGlyphs" font-family="Liberation Sans" font-weight="bold" font-size="13" fill="#000" xml:space="preserve">Next Echo and Pulse Highs</text><text x="941.6" y="206.0" textLength="120.8" lengthAdjust="spacingAndGlyphs" font-family="Liberation Sans" font-weight="bold" font-size="13" fill="#000" xml:space="preserve">* S/T BUY SIGNAL *</text><text x="941.6" y="221.8" textLength="131.2" lengthAdjust="spacingAndGlyphs" font-family="Liberation Sans" font-weight="bold" font-size="13" fill="#000" xml:space="preserve">* NO SHORT ALERT *</text><text x="942.1" y="254.6" textLength="223.7" lengthAdjust="spacingAndGlyphs" font-family="Liberation Sans" font-weight="bold" font-size="13" fill="#000" xml:space="preserve">S/T BUY Signal at 5160 on 18 March</text><text x="941.6" y="286.0" textLength="208.3" lengthAdjust="spacingAndGlyphs" font-family="Liberation Sans" font-weight="bold" font-size="13" fill="#000" xml:space="preserve">T volume Osc: positive on 14 Feb</text><text x="941.6" y="301.8" textLength="16.4" lengthAdjust="spacingAndGlyphs" font-family="Liberation Sans" font-weight="bold" font-size="13" fill="#000" xml:space="preserve">Up</text><text x="941.6" y="333.8" textLength="174.2" lengthAdjust="spacingAndGlyphs" font-family="Liberation Sans" font-weight="bold" font-size="13" fill="#000" xml:space="preserve">Osc: SELL Signal on 28 Mar</text><text x="941.6" y="349.7" textLength="34.7" lengthAdjust="spacingAndGlyphs" font-family="Liberation Sans" font-weight="bold" font-size="13" fill="#000" xml:space="preserve">Down</text><text x="941.4" y="413.9" textLength="84.2" lengthAdjust="spacingAndGlyphs" font-family="Liberation Sans" font-weight="bold" font-size="13" fill="#000" xml:space="preserve">Click here for</text><text x="941.4" y="429.9" textLength="120.3" lengthAdjust="spacingAndGlyphs" font-family="Liberation Sans" font-weight="bold" font-size="13" fill="#000" xml:space="preserve">More Information...</text><text x="940.9" y="718.3" textLength="139.4" lengthAdjust="spacingAndGlyphs" font-family="Liberation Sans" font-weight="bold" font-size="13" fill="#000" xml:space="preserve">Next Projected Low(s)</text><text x="850.2" y="227.0" textLength="27.3" lengthAdjust="spacingAndGlyphs" font-family="Liberation Sans" font-weight="bold" font-size="13.5" fill="#000" >5106</text><text x="850.2" y="408.6" textLength="27.3" lengthAdjust="spacingAndGlyphs" font-family="Liberation Sans" font-weight="bold" font-size="13.5" fill="#000" >4781</text><text x="850.2" y="591.8" textLength="27.3" lengthAdjust="spacingAndGlyphs" font-family="Liberation Sans" font-weight="bold" font-size="13.5" fill="#000" >4457</text><text x="850.2" y="686.8" textLength="27.3" lengthAdjust="spacingAndGlyphs" font-family="Liberation Sans" font-weight="bold" font-size="13.5" fill="#000" >4289</text><text x="1197.3" y="125.9" textLength="45.7" lengthAdjust="spacingAndGlyphs" font-family="Liberation Sans" font-weight="bold" font-size="13.5" fill="#000" >5300.00</text><text x="1197.3" y="182.4" textLength="45.7" lengthAdjust="spacingAndGlyphs" font-family="Liberation Sans" font-weight="bold" font-size="13.5" fill="#000" >5200.00</text><text x="1197.3" y="238.8" textLength="45.7" lengthAdjust="spacingAndGlyphs" font-family="Liberation Sans" font-weight="bold" font-size="13.5" fill="#000" >5100.00</text><text x="1197.3" y="295.3" textLength="45.7" lengthAdjust="spacingAndGlyphs" font-family="Liberation Sans" font-weight="bold" font-size="13.5" fill="#000" >5000.00</text><text x="1197.3" y="351.7" textLength="45.7" lengthAdjust="spacingAndGlyphs" font-family="Liberation Sans" font-weight="bold" font-size="13.5" fill="#000" >4900.00</text><text x="1197.3" y="408.2" textLength="45.7" lengthAdjust="spacingAndGlyphs" font-family="Liberation Sans" font-weight="bold" font-size="13.5" fill="#000" >4800.00</text><text x="1197.3" y="464.7" textLength="45.7" lengthAdjust="spacingAndGlyphs" font-family="Liberation Sans" font-weight="bold" font-size="13.5" fill="#000" >4700.00</text><text x="1197.3" y="521.1" textLength="45.7" lengthAdjust="spacingAndGlyphs" font-family="Liberation Sans" font-weight="bold" font-size="13.5" fill="#000" >4600.00</text><text x="1197.3" y="577.6" textLength="45.7" lengthAdjust="spacingAndGlyphs" font-family="Liberation Sans" font-weight="bold" font-size="13.5" fill="#000" >4500.00</text><text x="1197.3" y="634.0" textLength="45.7" lengthAdjust="spacingAndGlyphs" font-family="Liberation Sans" font-weight="bold" font-size="13.5" fill="#000" >4400.00</text><text x="1197.3" y="690.5" textLength="45.7" lengthAdjust="spacingAndGlyphs" font-family="Liberation Sans" font-weight="bold" font-size="13.5" fill="#000" >4300.00</text><text x="1197.3" y="747.0" textLength="28.0" lengthAdjust="spacingAndGlyphs" font-family="Liberation Sans" font-weight="bold" font-size="13.5" fill="#000" >4200</text><text x="1197.0" y="770.6" textLength="21.0" lengthAdjust="spacingAndGlyphs" font-family="Liberation Sans" font-weight="bold" font-size="13.5" fill="#000" >200</text><text x="1197.0" y="805.4" textLength="21.0" lengthAdjust="spacingAndGlyphs" font-family="Liberation Sans" font-weight="bold" font-size="13.5" fill="#000" >150</text><text x="1197.0" y="840.2" textLength="21.0" lengthAdjust="spacingAndGlyphs" font-family="Liberation Sans" font-weight="bold" font-size="13.5" fill="#000" >100</text><text x="1197.0" y="875.1" textLength="14.2" lengthAdjust="spacingAndGlyphs" font-family="Liberation Sans" font-weight="bold" font-size="13.5" fill="#000" >50</text><text x="1197.0" y="909.7" textLength="7.3" lengthAdjust="spacingAndGlyphs" font-family="Liberation Sans" font-weight="bold" font-size="13.5" fill="#000" >0</text><rect x="1224" y="732" width="24" height="17" fill="#000"/><rect x="1225" y="733" width="23" height="16" fill="#fff"/><rect x="1226" y="734" width="22" height="15" fill="#c8c8c8"/><g transform="translate(1225,733)"><rect x="1" y="1" width="4" height="3" fill="#909090"/><path d="M3 4 Q5 1.5 8 3 Q10 4 11.5 3 Q13 4 15 3 Q18 1.5 20 4" fill="none" stroke="#000" stroke-width="1.1"/><path d="M8 4 L11.5 8 L15 4" fill="none" stroke="#ffff00" stroke-width="1.6"/><rect x="10" y="7" width="3" height="7" fill="#000"/><rect x="11" y="8" width="1" height="6" fill="#ffff00"/><path d="M5 4 L2 10 M5 4 L8 10 M18 4 L15 10 M18 4 L21 10" stroke="#000" stroke-width="0.9" stroke-dasharray="1.2 0.6"/><path d="M1.5 10.5 H8.5 Q8.5 13 5 13 Q1.5 13 1.5 10.5 Z M14.5 10.5 H21.5 Q21.5 13 18 13 Q14.5 13 14.5 10.5 Z" fill="#fff" stroke="#000" stroke-width="0.9"/><path d="M5 11.5 H8 M18 11.5 H21" stroke="#ffff00" stroke-width="1.2"/></g></svg></body></html>
